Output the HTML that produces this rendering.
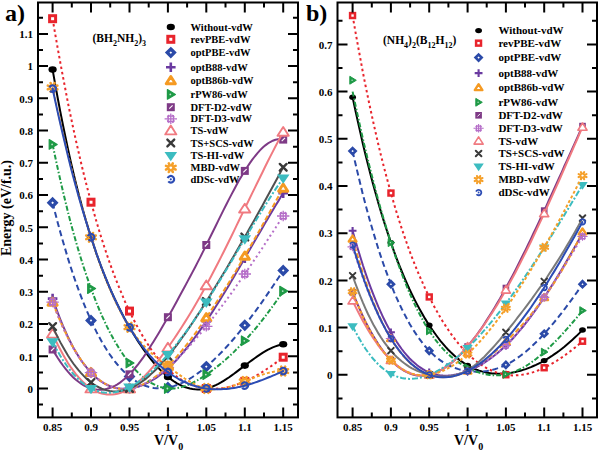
<!DOCTYPE html><html><head><meta charset="utf-8"><style>
html,body{margin:0;padding:0;background:#fff;width:600px;height:452px;overflow:hidden}
svg{display:block}
text{font-family:"Liberation Serif",serif;font-weight:bold;fill:#000}
.tl{font-size:11px}
.lg{font-size:10.5px}
.lg2{font-size:11px}
.ti{font-size:11.5px}
.sb{font-size:8px}
.sb2{font-size:10px}
.pl{font-size:24px}
.ax{font-size:14px}
</style></head><body><svg width="600" height="452" viewBox="0 0 600 452">
<defs><clipPath id="ca"><rect x="39" y="3.2" width="258" height="413.1"/></clipPath><clipPath id="cb"><rect x="338.5" y="3.2" width="257.5" height="413.1"/></clipPath></defs>
<rect width="600" height="452" fill="#fff"/>
<g clip-path="url(#ca)">
<path d="M52.6 69.6L55.2 84.3L57.8 98.5L60.4 112.1L63.0 125.1L65.6 137.7L68.1 149.8L70.7 161.4L73.3 172.5L75.9 183.2L78.5 193.5L81.1 203.3L83.7 212.7L86.3 221.7L88.9 230.4L91.5 238.6L94.1 246.6L96.6 254.2L99.2 261.4L101.8 268.4L104.4 275.1L107.0 281.5L109.6 287.6L112.2 293.5L114.8 299.1L117.4 304.5L120.0 309.7L122.6 314.7L125.1 319.6L127.7 324.2L130.3 328.7L132.9 333.1L135.5 337.3L138.1 341.4L140.7 345.3L143.3 349.1L145.9 352.7L148.5 356.2L151.0 359.5L153.6 362.6L156.2 365.6L158.8 368.4L161.4 371.0L164.0 373.5L166.6 375.8L169.2 377.9L171.8 379.9L174.4 381.7L177.0 383.3L179.5 384.7L182.1 385.9L184.7 387.0L187.3 387.8L189.9 388.5L192.5 389.0L195.1 389.3L197.7 389.5L200.3 389.4L202.9 389.1L205.5 388.7L208.0 388.1L210.6 387.2L213.2 386.2L215.8 385.1L218.4 383.8L221.0 382.4L223.6 380.8L226.2 379.2L228.8 377.5L231.4 375.6L234.0 373.8L236.5 371.9L239.1 369.9L241.7 367.9L244.3 365.9L246.9 364.0L249.5 362.0L252.1 360.1L254.7 358.2L257.3 356.4L259.9 354.6L262.5 352.9L265.0 351.4L267.6 349.9L270.2 348.6L272.8 347.4L275.4 346.4L278.0 345.5L280.6 344.8L283.2 344.3" fill="none" stroke="#000000" stroke-width="2"/>
<ellipse cx="52.6" cy="69.6" rx="4.1" ry="3.3" fill="#000000"/>
<ellipse cx="91.0" cy="237.3" rx="4.1" ry="3.3" fill="#000000"/>
<ellipse cx="129.5" cy="327.2" rx="4.1" ry="3.3" fill="#000000"/>
<ellipse cx="167.9" cy="376.9" rx="4.1" ry="3.3" fill="#000000"/>
<ellipse cx="206.3" cy="388.5" rx="4.1" ry="3.3" fill="#000000"/>
<ellipse cx="244.8" cy="365.6" rx="4.1" ry="3.3" fill="#000000"/>
<ellipse cx="283.2" cy="344.3" rx="4.1" ry="3.3" fill="#000000"/>
<path d="M52.6 18.7L55.2 34.0L57.8 48.8L60.4 63.1L63.0 77.0L65.6 90.5L68.1 103.6L70.7 116.2L73.3 128.5L75.9 140.4L78.5 151.8L81.1 163.0L83.7 173.7L86.3 184.1L88.9 194.1L91.5 203.7L94.1 213.1L96.6 222.1L99.2 230.8L101.8 239.1L104.4 247.2L107.0 255.0L109.6 262.5L112.2 269.7L114.8 276.6L117.4 283.3L120.0 289.7L122.6 295.8L125.1 301.8L127.7 307.5L130.3 312.9L132.9 318.2L135.5 323.2L138.1 328.0L140.7 332.7L143.3 337.1L145.9 341.3L148.5 345.3L151.0 349.1L153.6 352.7L156.2 356.1L158.8 359.3L161.4 362.4L164.0 365.2L166.6 367.9L169.2 370.4L171.8 372.7L174.4 374.8L177.0 376.8L179.5 378.6L182.1 380.2L184.7 381.7L187.3 383.0L189.9 384.2L192.5 385.2L195.1 386.1L197.7 386.9L200.3 387.5L202.9 388.0L205.5 388.4L208.0 388.7L210.6 388.8L213.2 388.9L215.8 388.8L218.4 388.6L221.0 388.3L223.6 388.0L226.2 387.5L228.8 386.9L231.4 386.2L234.0 385.5L236.5 384.6L239.1 383.7L241.7 382.7L244.3 381.6L246.9 380.4L249.5 379.2L252.1 377.9L254.7 376.5L257.3 375.0L259.9 373.5L262.5 371.9L265.0 370.2L267.6 368.5L270.2 366.8L272.8 365.0L275.4 363.1L278.0 361.2L280.6 359.2L283.2 357.2" fill="none" stroke="#e8242c" stroke-width="2" stroke-dasharray="2.5,2.9"/>
<rect x="49.6" y="15.7" width="6.0" height="6.0" fill="#fff" stroke="#e8242c" stroke-width="3.0"/>
<rect x="88.0" y="199.2" width="6.0" height="6.0" fill="#fff" stroke="#e8242c" stroke-width="3.0"/>
<rect x="126.5" y="308.1" width="6.0" height="6.0" fill="#fff" stroke="#e8242c" stroke-width="3.0"/>
<rect x="164.9" y="366.2" width="6.0" height="6.0" fill="#fff" stroke="#e8242c" stroke-width="3.0"/>
<rect x="203.3" y="385.5" width="6.0" height="6.0" fill="#fff" stroke="#e8242c" stroke-width="3.0"/>
<rect x="241.8" y="378.4" width="6.0" height="6.0" fill="#fff" stroke="#e8242c" stroke-width="3.0"/>
<rect x="280.2" y="354.2" width="6.0" height="6.0" fill="#fff" stroke="#e8242c" stroke-width="3.0"/>
<path d="M52.6 202.8L55.2 213.0L57.8 222.9L60.4 232.4L63.0 241.6L65.6 250.4L68.1 258.9L70.7 267.1L73.3 275.0L75.9 282.5L78.5 289.7L81.1 296.7L83.7 303.3L86.3 309.6L88.9 315.7L91.5 321.4L94.1 326.9L96.6 332.1L99.2 337.0L101.8 341.7L104.4 346.1L107.0 350.3L109.6 354.2L112.2 357.9L114.8 361.3L117.4 364.5L120.0 367.5L122.6 370.3L125.1 372.8L127.7 375.1L130.3 377.3L132.9 379.2L135.5 380.9L138.1 382.5L140.7 383.8L143.3 385.0L145.9 386.0L148.5 386.8L151.0 387.4L153.6 387.9L156.2 388.2L158.8 388.3L161.4 388.3L164.0 388.1L166.6 387.8L169.2 387.3L171.8 386.7L174.4 385.9L177.0 385.0L179.5 384.0L182.1 382.8L184.7 381.5L187.3 380.1L189.9 378.6L192.5 377.0L195.1 375.2L197.7 373.4L200.3 371.5L202.9 369.4L205.5 367.3L208.0 365.1L210.6 362.8L213.2 360.4L215.8 357.9L218.4 355.4L221.0 352.8L223.6 350.1L226.2 347.3L228.8 344.4L231.4 341.5L234.0 338.5L236.5 335.4L239.1 332.3L241.7 329.1L244.3 325.9L246.9 322.5L249.5 319.2L252.1 315.7L254.7 312.2L257.3 308.7L259.9 305.1L262.5 301.4L265.0 297.7L267.6 293.9L270.2 290.1L272.8 286.3L275.4 282.4L278.0 278.5L280.6 274.5L283.2 270.5" fill="none" stroke="#2b4aa8" stroke-width="2" stroke-dasharray="6,3.5"/>
<path d="M52.6 199.2L56.2 202.8L52.6 206.4L49.0 202.8Z" fill="#fff" stroke="#2b4aa8" stroke-width="3.3"/>
<path d="M91.0 316.9L94.6 320.5L91.0 324.1L87.4 320.5Z" fill="#fff" stroke="#2b4aa8" stroke-width="3.3"/>
<path d="M129.5 373.0L133.1 376.6L129.5 380.2L125.9 376.6Z" fill="#fff" stroke="#2b4aa8" stroke-width="3.3"/>
<path d="M167.9 383.9L171.5 387.5L167.9 391.1L164.3 387.5Z" fill="#fff" stroke="#2b4aa8" stroke-width="3.3"/>
<path d="M206.3 363.0L209.9 366.6L206.3 370.2L202.7 366.6Z" fill="#fff" stroke="#2b4aa8" stroke-width="3.3"/>
<path d="M244.8 321.7L248.4 325.3L244.8 328.9L241.2 325.3Z" fill="#fff" stroke="#2b4aa8" stroke-width="3.3"/>
<path d="M283.2 266.9L286.8 270.5L283.2 274.1L279.6 270.5Z" fill="#fff" stroke="#2b4aa8" stroke-width="3.3"/>
<path d="M52.6 298.6L55.2 305.9L57.8 312.9L60.4 319.5L63.0 325.8L65.6 331.7L68.1 337.3L70.7 342.5L73.3 347.4L75.9 352.0L78.5 356.2L81.1 360.2L83.7 363.9L86.3 367.2L88.9 370.3L91.5 373.2L94.1 375.7L96.6 378.0L99.2 380.1L101.8 381.9L104.4 383.5L107.0 384.8L109.6 386.0L112.2 386.9L114.8 387.7L117.4 388.2L120.0 388.6L122.6 388.8L125.1 388.8L127.7 388.7L130.3 388.4L132.9 388.0L135.5 387.4L138.1 386.7L140.7 385.8L143.3 384.8L145.9 383.7L148.5 382.4L151.0 381.0L153.6 379.5L156.2 377.8L158.8 376.0L161.4 374.0L164.0 371.9L166.6 369.7L169.2 367.3L171.8 364.8L174.4 362.2L177.0 359.5L179.5 356.6L182.1 353.6L184.7 350.5L187.3 347.3L189.9 344.0L192.5 340.7L195.1 337.2L197.7 333.6L200.3 329.9L202.9 326.2L205.5 322.4L208.0 318.5L210.6 314.6L213.2 310.6L215.8 306.5L218.4 302.4L221.0 298.2L223.6 294.0L226.2 289.7L228.8 285.4L231.4 281.1L234.0 276.7L236.5 272.3L239.1 267.9L241.7 263.4L244.3 259.0L246.9 254.5L249.5 250.1L252.1 245.6L254.7 241.1L257.3 236.6L259.9 232.2L262.5 227.7L265.0 223.3L267.6 218.9L270.2 214.5L272.8 210.2L275.4 205.8L278.0 201.6L280.6 197.3L283.2 193.1" fill="none" stroke="#6a3aa0" stroke-width="2"/>
<path d="M47.8 298.6H57.4M52.6 293.8V303.4" stroke="#6a3aa0" stroke-width="2.6"/>
<path d="M86.2 372.7H95.8M91.0 367.9V377.5" stroke="#6a3aa0" stroke-width="2.6"/>
<path d="M124.7 388.5H134.3M129.5 383.7V393.3" stroke="#6a3aa0" stroke-width="2.6"/>
<path d="M163.1 368.5H172.7M167.9 363.7V373.3" stroke="#6a3aa0" stroke-width="2.6"/>
<path d="M201.5 321.1H211.1M206.3 316.3V325.9" stroke="#6a3aa0" stroke-width="2.6"/>
<path d="M240.0 258.3H249.6M244.8 253.5V263.1" stroke="#6a3aa0" stroke-width="2.6"/>
<path d="M278.4 193.1H288.0M283.2 188.3V197.9" stroke="#6a3aa0" stroke-width="2.6"/>
<path d="M52.6 302.1L55.2 308.9L57.8 315.3L60.4 321.5L63.0 327.3L65.6 332.8L68.1 338.1L70.7 343.0L73.3 347.7L75.9 352.1L78.5 356.2L81.1 360.1L83.7 363.6L86.3 367.0L88.9 370.0L91.5 372.8L94.1 375.4L96.6 377.7L99.2 379.8L101.8 381.7L104.4 383.3L107.0 384.7L109.6 385.9L112.2 386.9L114.8 387.7L117.4 388.3L120.0 388.7L122.6 388.9L125.1 388.9L127.7 388.7L130.3 388.4L132.9 387.8L135.5 387.2L138.1 386.3L140.7 385.3L143.3 384.1L145.9 382.8L148.5 381.4L151.0 379.7L153.6 378.0L156.2 376.1L158.8 374.1L161.4 371.9L164.0 369.6L166.6 367.2L169.2 364.6L171.8 362.0L174.4 359.2L177.0 356.3L179.5 353.4L182.1 350.3L184.7 347.1L187.3 343.8L189.9 340.5L192.5 337.1L195.1 333.6L197.7 330.0L200.3 326.3L202.9 322.6L205.5 318.8L208.0 315.0L210.6 311.1L213.2 307.2L215.8 303.2L218.4 299.2L221.0 295.1L223.6 291.0L226.2 286.9L228.8 282.7L231.4 278.4L234.0 274.2L236.5 269.9L239.1 265.5L241.7 261.1L244.3 256.7L246.9 252.3L249.5 247.8L252.1 243.3L254.7 238.8L257.3 234.3L259.9 229.7L262.5 225.1L265.0 220.5L267.6 215.9L270.2 211.3L272.8 206.7L275.4 202.0L278.0 197.3L280.6 192.7L283.2 188.0" fill="none" stroke="#f59a22" stroke-width="2" stroke-dasharray="5,2.5"/>
<path d="M52.6 298.1L57.2 305.3L48.0 305.3Z" fill="#fff" stroke="#f59a22" stroke-width="2.9" stroke-linejoin="round"/>
<path d="M91.0 368.4L95.6 375.6L86.4 375.6Z" fill="#fff" stroke="#f59a22" stroke-width="2.9" stroke-linejoin="round"/>
<path d="M129.5 384.5L134.1 391.7L124.9 391.7Z" fill="#fff" stroke="#f59a22" stroke-width="2.9" stroke-linejoin="round"/>
<path d="M167.9 361.9L172.5 369.1L163.3 369.1Z" fill="#fff" stroke="#f59a22" stroke-width="2.9" stroke-linejoin="round"/>
<path d="M206.3 313.6L210.9 320.8L201.7 320.8Z" fill="#fff" stroke="#f59a22" stroke-width="2.9" stroke-linejoin="round"/>
<path d="M244.8 252.0L249.4 259.2L240.2 259.2Z" fill="#fff" stroke="#f59a22" stroke-width="2.9" stroke-linejoin="round"/>
<path d="M283.2 184.0L287.8 191.2L278.6 191.2Z" fill="#fff" stroke="#f59a22" stroke-width="2.9" stroke-linejoin="round"/>
<path d="M52.6 144.4L55.2 156.8L57.8 168.8L60.4 180.4L63.0 191.6L65.6 202.3L68.1 212.7L70.7 222.7L73.3 232.3L75.9 241.5L78.5 250.4L81.1 259.0L83.7 267.2L86.3 275.0L88.9 282.5L91.5 289.7L94.1 296.6L96.6 303.2L99.2 309.5L101.8 315.5L104.4 321.1L107.0 326.6L109.6 331.7L112.2 336.6L114.8 341.2L117.4 345.6L120.0 349.8L122.6 353.7L125.1 357.4L127.7 360.8L130.3 364.1L132.9 367.1L135.5 370.0L138.1 372.6L140.7 375.1L143.3 377.3L145.9 379.4L148.5 381.2L151.0 382.8L153.6 384.2L156.2 385.5L158.8 386.5L161.4 387.3L164.0 387.9L166.6 388.4L169.2 388.6L171.8 388.6L174.4 388.5L177.0 388.1L179.5 387.6L182.1 386.9L184.7 386.1L187.3 385.2L189.9 384.1L192.5 382.9L195.1 381.5L197.7 380.1L200.3 378.6L202.9 376.9L205.5 375.2L208.0 373.4L210.6 371.6L213.2 369.7L215.8 367.7L218.4 365.6L221.0 363.5L223.6 361.3L226.2 359.1L228.8 356.7L231.4 354.3L234.0 351.9L236.5 349.3L239.1 346.7L241.7 344.0L244.3 341.3L246.9 338.4L249.5 335.5L252.1 332.5L254.7 329.5L257.3 326.4L259.9 323.2L262.5 319.9L265.0 316.6L267.6 313.2L270.2 309.7L272.8 306.1L275.4 302.5L278.0 298.8L280.6 295.0L283.2 291.1" fill="none" stroke="#1e9a46" stroke-width="2" stroke-dasharray="5,2,1.5,2"/>
<path d="M57.2 144.4L49.2 139.6L49.2 149.2Z" fill="#1e9a46" stroke="#1e9a46" stroke-width="1.2" stroke-linejoin="round"/><circle cx="52.1" cy="144.4" r="0.9" fill="#fff" opacity="0.7"/>
<path d="M95.6 288.6L87.7 283.8L87.7 293.4Z" fill="#1e9a46" stroke="#1e9a46" stroke-width="1.2" stroke-linejoin="round"/><circle cx="90.5" cy="288.6" r="0.9" fill="#fff" opacity="0.7"/>
<path d="M134.0 363.0L126.1 358.2L126.1 367.8Z" fill="#1e9a46" stroke="#1e9a46" stroke-width="1.2" stroke-linejoin="round"/><circle cx="129.0" cy="363.0" r="0.9" fill="#fff" opacity="0.7"/>
<path d="M172.5 388.5L164.5 383.7L164.5 393.3Z" fill="#1e9a46" stroke="#1e9a46" stroke-width="1.2" stroke-linejoin="round"/><circle cx="167.4" cy="388.5" r="0.9" fill="#fff" opacity="0.7"/>
<path d="M210.9 374.6L203.0 369.8L203.0 379.4Z" fill="#1e9a46" stroke="#1e9a46" stroke-width="1.2" stroke-linejoin="round"/><circle cx="205.8" cy="374.6" r="0.9" fill="#fff" opacity="0.7"/>
<path d="M249.3 340.8L241.4 336.0L241.4 345.6Z" fill="#1e9a46" stroke="#1e9a46" stroke-width="1.2" stroke-linejoin="round"/><circle cx="244.3" cy="340.8" r="0.9" fill="#fff" opacity="0.7"/>
<path d="M287.7 291.1L279.8 286.3L279.8 295.9Z" fill="#1e9a46" stroke="#1e9a46" stroke-width="1.2" stroke-linejoin="round"/><circle cx="282.7" cy="291.1" r="0.9" fill="#fff" opacity="0.7"/>
<path d="M52.6 349.5L55.2 353.9L57.8 358.0L60.4 361.9L63.0 365.5L65.6 368.8L68.1 371.9L70.7 374.8L73.3 377.4L75.9 379.7L78.5 381.8L81.1 383.7L83.7 385.3L86.3 386.6L88.9 387.8L91.5 388.6L94.1 389.3L96.6 389.6L99.2 389.8L101.8 389.7L104.4 389.4L107.0 388.8L109.6 388.0L112.2 387.0L114.8 385.8L117.4 384.3L120.0 382.6L122.6 380.6L125.1 378.4L127.7 376.0L130.3 373.4L132.9 370.6L135.5 367.5L138.1 364.3L140.7 360.9L143.3 357.3L145.9 353.5L148.5 349.7L151.0 345.6L153.6 341.5L156.2 337.3L158.8 332.9L161.4 328.5L164.0 324.1L166.6 319.5L169.2 315.0L171.8 310.4L174.4 305.7L177.0 301.0L179.5 296.3L182.1 291.6L184.7 286.8L187.3 281.9L189.9 277.1L192.5 272.1L195.1 267.2L197.7 262.1L200.3 257.1L202.9 251.9L205.5 246.8L208.0 241.5L210.6 236.3L213.2 231.0L215.8 225.7L218.4 220.4L221.0 215.1L223.6 209.9L226.2 204.7L228.8 199.6L231.4 194.6L234.0 189.7L236.5 185.0L239.1 180.3L241.7 175.9L244.3 171.6L246.9 167.5L249.5 163.6L252.1 159.9L254.7 156.5L257.3 153.3L259.9 150.4L262.5 147.8L265.0 145.6L267.6 143.6L270.2 142.0L272.8 140.7L275.4 139.8L278.0 139.3L280.6 139.3L283.2 139.6" fill="none" stroke="#7e3a86" stroke-width="2"/>
<rect x="48.6" y="345.5" width="8.0" height="8.0" fill="#7e3a86"/><path d="M51.1 351.0L54.4 347.7" stroke="#fff" stroke-width="1.1"/>
<rect x="87.0" y="384.5" width="8.0" height="8.0" fill="#7e3a86"/><path d="M89.5 390.0L92.8 386.7" stroke="#fff" stroke-width="1.1"/>
<rect x="125.5" y="370.3" width="8.0" height="8.0" fill="#7e3a86"/><path d="M128.0 375.8L131.3 372.5" stroke="#fff" stroke-width="1.1"/>
<rect x="163.9" y="313.2" width="8.0" height="8.0" fill="#7e3a86"/><path d="M166.4 318.7L169.7 315.4" stroke="#fff" stroke-width="1.1"/>
<rect x="202.3" y="241.0" width="8.0" height="8.0" fill="#7e3a86"/><path d="M204.8 246.5L208.1 243.2" stroke="#fff" stroke-width="1.1"/>
<rect x="240.8" y="166.9" width="8.0" height="8.0" fill="#7e3a86"/><path d="M243.3 172.4L246.6 169.1" stroke="#fff" stroke-width="1.1"/>
<rect x="279.2" y="135.6" width="8.0" height="8.0" fill="#7e3a86"/><path d="M281.7 141.1L285.0 137.8" stroke="#fff" stroke-width="1.1"/>
<path d="M52.6 302.1L55.2 308.9L57.8 315.5L60.4 321.7L63.0 327.6L65.6 333.1L68.1 338.4L70.7 343.4L73.3 348.1L75.9 352.5L78.5 356.6L81.1 360.4L83.7 364.0L86.3 367.3L88.9 370.4L91.5 373.2L94.1 375.7L96.6 378.0L99.2 380.1L101.8 381.9L104.4 383.5L107.0 384.9L109.6 386.1L112.2 387.0L114.8 387.8L117.4 388.3L120.0 388.7L122.6 388.9L125.1 388.9L127.7 388.7L130.3 388.4L132.9 387.9L135.5 387.2L138.1 386.4L140.7 385.4L143.3 384.3L145.9 383.0L148.5 381.6L151.0 380.1L153.6 378.5L156.2 376.7L158.8 374.8L161.4 372.9L164.0 370.8L166.6 368.7L169.2 366.4L171.8 364.1L174.4 361.7L177.0 359.2L179.5 356.6L182.1 354.0L184.7 351.3L187.3 348.5L189.9 345.6L192.5 342.7L195.1 339.8L197.7 336.7L200.3 333.7L202.9 330.5L205.5 327.3L208.0 324.1L210.6 320.8L213.2 317.5L215.8 314.2L218.4 310.7L221.0 307.3L223.6 303.8L226.2 300.3L228.8 296.7L231.4 293.1L234.0 289.5L236.5 285.8L239.1 282.1L241.7 278.4L244.3 274.7L246.9 270.9L249.5 267.1L252.1 263.3L254.7 259.4L257.3 255.6L259.9 251.7L262.5 247.8L265.0 243.8L267.6 239.9L270.2 235.9L272.8 232.0L275.4 228.0L278.0 224.0L280.6 220.0L283.2 216.0" fill="none" stroke="#b56ec8" stroke-width="2" stroke-dasharray="2,3"/>
<path d="M49.4 299.5H55.8M46.4 302.1H58.8M49.0 304.7H56.2M50.0 298.3V305.9M52.6 296.9V307.3M55.2 298.3V305.9" stroke="#b56ec8" stroke-width="1.3"/><path d="M49.0 300.6L51.1 298.1M56.2 300.6L54.1 298.1M49.0 303.6L51.1 306.1M56.2 303.6L54.1 306.1" stroke="#b56ec8" stroke-width="1.3"/>
<path d="M87.8 370.1H94.2M84.8 372.7H97.2M87.4 375.3H94.6M88.4 368.9V376.5M91.0 367.5V377.9M93.6 368.9V376.5" stroke="#b56ec8" stroke-width="1.3"/><path d="M87.4 371.2L89.5 368.7M94.6 371.2L92.5 368.7M87.4 374.2L89.5 376.7M94.6 374.2L92.5 376.7" stroke="#b56ec8" stroke-width="1.3"/>
<path d="M126.3 385.9H132.7M123.3 388.5H135.7M125.9 391.1H133.1M126.9 384.7V392.3M129.5 383.3V393.7M132.1 384.7V392.3" stroke="#b56ec8" stroke-width="1.3"/><path d="M125.9 387.0L128.0 384.5M133.1 387.0L131.0 384.5M125.9 390.0L128.0 392.5M133.1 390.0L131.0 392.5" stroke="#b56ec8" stroke-width="1.3"/>
<path d="M164.7 364.9H171.1M161.7 367.5H174.1M164.3 370.1H171.5M165.3 363.7V371.3M167.9 362.3V372.7M170.5 363.7V371.3" stroke="#b56ec8" stroke-width="1.3"/><path d="M164.3 366.0L166.4 363.5M171.5 366.0L169.4 363.5M164.3 369.0L166.4 371.5M171.5 369.0L169.4 371.5" stroke="#b56ec8" stroke-width="1.3"/>
<path d="M203.1 323.7H209.5M200.1 326.3H212.5M202.7 328.9H209.9M203.7 322.5V330.1M206.3 321.1V331.5M208.9 322.5V330.1" stroke="#b56ec8" stroke-width="1.3"/><path d="M202.7 324.8L204.8 322.3M209.9 324.8L207.8 322.3M202.7 327.8L204.8 330.3M209.9 327.8L207.8 330.3" stroke="#b56ec8" stroke-width="1.3"/>
<path d="M241.6 271.4H248.0M238.6 274.0H251.0M241.2 276.6H248.4M242.2 270.2V277.8M244.8 268.8V279.2M247.4 270.2V277.8" stroke="#b56ec8" stroke-width="1.3"/><path d="M241.2 272.5L243.3 270.0M248.4 272.5L246.3 270.0M241.2 275.5L243.3 278.0M248.4 275.5L246.3 278.0" stroke="#b56ec8" stroke-width="1.3"/>
<path d="M280.0 213.4H286.4M277.0 216.0H289.4M279.6 218.6H286.8M280.6 212.2V219.8M283.2 210.8V221.2M285.8 212.2V219.8" stroke="#b56ec8" stroke-width="1.3"/><path d="M279.6 214.5L281.7 212.0M286.8 214.5L284.7 212.0M279.6 217.5L281.7 220.0M286.8 217.5L284.7 220.0" stroke="#b56ec8" stroke-width="1.3"/>
<path d="M52.6 333.7L55.2 339.3L57.8 344.7L60.4 349.7L63.0 354.5L65.6 359.0L68.1 363.2L70.7 367.1L73.3 370.7L75.9 374.1L78.5 377.2L81.1 380.0L83.7 382.6L86.3 384.9L88.9 387.0L91.5 388.8L94.1 390.3L96.6 391.7L99.2 392.7L101.8 393.6L104.4 394.1L107.0 394.5L109.6 394.6L112.2 394.6L114.8 394.3L117.4 393.7L120.0 393.0L122.6 392.0L125.1 390.9L127.7 389.5L130.3 388.0L132.9 386.2L135.5 384.3L138.1 382.1L140.7 379.8L143.3 377.4L145.9 374.8L148.5 372.0L151.0 369.1L153.6 366.1L156.2 363.0L158.8 359.7L161.4 356.4L164.0 352.9L166.6 349.4L169.2 345.7L171.8 342.0L174.4 338.3L177.0 334.4L179.5 330.5L182.1 326.5L184.7 322.4L187.3 318.2L189.9 314.0L192.5 309.7L195.1 305.3L197.7 300.8L200.3 296.3L202.9 291.6L205.5 286.9L208.0 282.1L210.6 277.3L213.2 272.3L215.8 267.3L218.4 262.3L221.0 257.1L223.6 252.0L226.2 246.8L228.8 241.5L231.4 236.2L234.0 230.9L236.5 225.6L239.1 220.2L241.7 214.9L244.3 209.5L246.9 204.1L249.5 198.8L252.1 193.4L254.7 188.1L257.3 182.7L259.9 177.5L262.5 172.2L265.0 167.0L267.6 161.8L270.2 156.6L272.8 151.6L275.4 146.5L278.0 141.6L280.6 136.7L283.2 131.9" fill="none" stroke="#f07a80" stroke-width="2"/>
<path d="M52.6 328.8L58.2 337.6L47.0 337.6Z" fill="#fff" stroke="#f07a80" stroke-width="1.9" stroke-linejoin="round"/>
<path d="M91.0 383.6L96.7 392.4L85.4 392.4Z" fill="#fff" stroke="#f07a80" stroke-width="1.9" stroke-linejoin="round"/>
<path d="M129.5 383.6L135.1 392.4L123.8 392.4Z" fill="#fff" stroke="#f07a80" stroke-width="1.9" stroke-linejoin="round"/>
<path d="M167.9 342.7L173.5 351.5L162.3 351.5Z" fill="#fff" stroke="#f07a80" stroke-width="1.9" stroke-linejoin="round"/>
<path d="M206.3 280.4L212.0 289.3L200.7 289.3Z" fill="#fff" stroke="#f07a80" stroke-width="1.9" stroke-linejoin="round"/>
<path d="M244.8 203.7L250.4 212.5L239.1 212.5Z" fill="#fff" stroke="#f07a80" stroke-width="1.9" stroke-linejoin="round"/>
<path d="M283.2 127.0L288.8 135.8L277.5 135.8Z" fill="#fff" stroke="#f07a80" stroke-width="1.9" stroke-linejoin="round"/>
<path d="M52.6 326.6L55.2 332.1L57.8 337.4L60.4 342.4L63.0 347.1L65.6 351.6L68.1 355.8L70.7 359.7L73.3 363.5L75.9 366.9L78.5 370.1L81.1 373.1L83.7 375.9L86.3 378.4L88.9 380.7L91.5 382.7L94.1 384.5L96.6 386.1L99.2 387.5L101.8 388.7L104.4 389.6L107.0 390.4L109.6 390.9L112.2 391.2L114.8 391.4L117.4 391.3L120.0 391.1L122.6 390.6L125.1 390.0L127.7 389.2L130.3 388.1L132.9 387.0L135.5 385.6L138.1 384.1L140.7 382.4L143.3 380.6L145.9 378.6L148.5 376.4L151.0 374.1L153.6 371.7L156.2 369.2L158.8 366.5L161.4 363.7L164.0 360.8L166.6 357.8L169.2 354.7L171.8 351.5L174.4 348.2L177.0 344.8L179.5 341.3L182.1 337.7L184.7 334.1L187.3 330.4L189.9 326.6L192.5 322.8L195.1 318.9L197.7 314.9L200.3 311.0L202.9 306.9L205.5 302.8L208.0 298.7L210.6 294.5L213.2 290.4L215.8 286.1L218.4 281.9L221.0 277.6L223.6 273.3L226.2 268.9L228.8 264.6L231.4 260.1L234.0 255.7L236.5 251.3L239.1 246.8L241.7 242.3L244.3 237.7L246.9 233.2L249.5 228.6L252.1 224.0L254.7 219.4L257.3 214.7L259.9 210.1L262.5 205.4L265.0 200.7L267.6 196.0L270.2 191.2L272.8 186.5L275.4 181.7L278.0 176.9L280.6 172.1L283.2 167.3" fill="none" stroke="#505050" stroke-width="2"/>
<path d="M49.2 323.2L56.0 330.0M56.0 323.2L49.2 330.0" stroke="#3a3a3a" stroke-width="2.4" stroke-linecap="round"/>
<path d="M87.6 379.0L94.4 385.8M94.4 379.0L87.6 385.8" stroke="#3a3a3a" stroke-width="2.4" stroke-linecap="round"/>
<path d="M126.1 385.1L132.9 391.9M132.9 385.1L126.1 391.9" stroke="#3a3a3a" stroke-width="2.4" stroke-linecap="round"/>
<path d="M164.5 352.9L171.3 359.7M171.3 352.9L164.5 359.7" stroke="#3a3a3a" stroke-width="2.4" stroke-linecap="round"/>
<path d="M202.9 298.1L209.7 304.9M209.7 298.1L202.9 304.9" stroke="#3a3a3a" stroke-width="2.4" stroke-linecap="round"/>
<path d="M241.4 233.6L248.2 240.4M248.2 233.6L241.4 240.4" stroke="#3a3a3a" stroke-width="2.4" stroke-linecap="round"/>
<path d="M279.8 163.9L286.6 170.7M286.6 163.9L279.8 170.7" stroke="#3a3a3a" stroke-width="2.4" stroke-linecap="round"/>
<path d="M52.6 341.8L55.2 346.8L57.8 351.5L60.4 356.0L63.0 360.1L65.6 364.0L68.1 367.6L70.7 370.9L73.3 374.0L75.9 376.8L78.5 379.4L81.1 381.7L83.7 383.8L86.3 385.7L88.9 387.3L91.5 388.7L94.1 389.9L96.6 390.9L99.2 391.6L101.8 392.2L104.4 392.6L107.0 392.8L109.6 392.8L112.2 392.6L114.8 392.2L117.4 391.7L120.0 391.0L122.6 390.2L125.1 389.2L127.7 388.0L130.3 386.8L132.9 385.4L135.5 383.8L138.1 382.1L140.7 380.3L143.3 378.4L145.9 376.4L148.5 374.2L151.0 371.9L153.6 369.6L156.2 367.1L158.8 364.5L161.4 361.8L164.0 359.0L166.6 356.1L169.2 353.2L171.8 350.1L174.4 346.9L177.0 343.7L179.5 340.4L182.1 337.0L184.7 333.6L187.3 330.0L189.9 326.4L192.5 322.7L195.1 319.0L197.7 315.2L200.3 311.3L202.9 307.4L205.5 303.4L208.0 299.4L210.6 295.3L213.2 291.2L215.8 287.0L218.4 282.8L221.0 278.6L223.6 274.3L226.2 270.0L228.8 265.7L231.4 261.4L234.0 257.0L236.5 252.7L239.1 248.3L241.7 244.0L244.3 239.6L246.9 235.3L249.5 231.0L252.1 226.7L254.7 222.4L257.3 218.1L259.9 213.9L262.5 209.7L265.0 205.6L267.6 201.5L270.2 197.4L272.8 193.4L275.4 189.4L278.0 185.6L280.6 181.7L283.2 178.0" fill="none" stroke="#3cbcc0" stroke-width="2" stroke-dasharray="6,2,2,2"/>
<path d="M46.3 338.2L58.9 338.2L52.6 347.6Z" fill="#3cbcc0"/>
<path d="M84.7 384.9L97.3 384.9L91.0 394.3Z" fill="#3cbcc0"/>
<path d="M123.2 383.6L135.8 383.6L129.5 393.0Z" fill="#3cbcc0"/>
<path d="M161.6 351.0L174.2 351.0L167.9 360.4Z" fill="#3cbcc0"/>
<path d="M200.0 298.5L212.6 298.5L206.3 307.9Z" fill="#3cbcc0"/>
<path d="M238.5 235.3L251.1 235.3L244.8 244.7Z" fill="#3cbcc0"/>
<path d="M276.9 174.4L289.5 174.4L283.2 183.8Z" fill="#3cbcc0"/>
<path d="M52.6 87.4L55.2 99.3L57.8 111.0L60.4 122.5L63.0 133.6L65.6 144.5L68.1 155.1L70.7 165.5L73.3 175.6L75.9 185.4L78.5 194.9L81.1 204.2L83.7 213.2L86.3 222.0L88.9 230.4L91.5 238.6L94.1 246.6L96.6 254.2L99.2 261.6L101.8 268.7L104.4 275.5L107.0 282.1L109.6 288.3L112.2 294.3L114.8 300.1L117.4 305.5L120.0 310.7L122.6 315.6L125.1 320.2L127.7 324.5L130.3 328.6L132.9 332.3L135.5 335.9L138.1 339.2L140.7 342.2L143.3 345.1L145.9 347.8L148.5 350.3L151.0 352.7L153.6 355.0L156.2 357.2L158.8 359.3L161.4 361.3L164.0 363.3L166.6 365.3L169.2 367.2L171.8 369.2L174.4 371.1L177.0 373.1L179.5 374.9L182.1 376.7L184.7 378.5L187.3 380.2L189.9 381.7L192.5 383.2L195.1 384.5L197.7 385.7L200.3 386.7L202.9 387.6L205.5 388.3L208.0 388.8L210.6 389.1L213.2 389.3L215.8 389.2L218.4 389.1L221.0 388.7L223.6 388.3L226.2 387.7L228.8 387.1L231.4 386.3L234.0 385.5L236.5 384.6L239.1 383.6L241.7 382.6L244.3 381.6L246.9 380.5L249.5 379.5L252.1 378.5L254.7 377.4L257.3 376.4L259.9 375.5L262.5 374.6L265.0 373.8L267.6 373.1L270.2 372.4L272.8 371.9L275.4 371.5L278.0 371.2L280.6 371.1L283.2 371.1" fill="none" stroke="#f5a02a" stroke-width="2" stroke-dasharray="3,2.2"/>
<path d="M55.0 88.3L57.4 89.2M53.6 89.6L54.6 91.7M51.6 89.6L50.6 91.7M50.2 88.3L47.8 89.2M50.2 86.5L47.8 85.6M51.6 85.2L50.6 83.0M53.6 85.2L54.6 83.0M55.0 86.5L57.4 85.6" stroke="#f5a02a" stroke-width="2.6" stroke-linecap="round"/>
<path d="M93.4 238.2L95.8 239.1M92.0 239.5L93.0 241.6M90.0 239.5L89.0 241.6M88.6 238.2L86.2 239.1M88.6 236.4L86.2 235.5M90.0 235.1L89.0 233.0M92.0 235.1L93.0 233.0M93.4 236.4L95.8 235.5" stroke="#f5a02a" stroke-width="2.6" stroke-linecap="round"/>
<path d="M131.9 328.2L134.3 329.0M130.5 329.5L131.4 331.6M128.5 329.5L127.5 331.6M127.1 328.2L124.7 329.0M127.1 326.3L124.7 325.4M128.5 325.0L127.5 322.9M130.5 325.0L131.4 322.9M131.9 326.3L134.3 325.4" stroke="#f5a02a" stroke-width="2.6" stroke-linecap="round"/>
<path d="M170.3 367.2L172.7 368.1M168.9 368.5L169.9 370.6M166.9 368.5L165.9 370.6M165.5 367.2L163.1 368.1M165.5 365.3L163.1 364.5M166.9 364.0L165.9 361.9M168.9 364.0L169.9 361.9M170.3 365.3L172.7 364.5" stroke="#f5a02a" stroke-width="2.6" stroke-linecap="round"/>
<path d="M208.7 389.4L211.1 390.3M207.3 390.7L208.3 392.8M205.3 390.7L204.3 392.8M203.9 389.4L201.5 390.3M203.9 387.6L201.5 386.7M205.3 386.3L204.3 384.2M207.3 386.3L208.3 384.2M208.7 387.6L211.1 386.7" stroke="#f5a02a" stroke-width="2.6" stroke-linecap="round"/>
<path d="M247.2 382.3L249.6 383.2M245.7 383.6L246.7 385.7M243.8 383.6L242.8 385.7M242.3 382.3L239.9 383.2M242.3 380.5L239.9 379.6M243.8 379.2L242.8 377.1M245.7 379.2L246.7 377.1M247.2 380.5L249.6 379.6" stroke="#f5a02a" stroke-width="2.6" stroke-linecap="round"/>
<path d="M285.6 372.0L288.0 372.9M284.2 373.3L285.2 375.4M282.2 373.3L281.2 375.4M280.8 372.0L278.4 372.9M280.8 370.2L278.4 369.3M282.2 368.9L281.2 366.7M284.2 368.9L285.2 366.7M285.6 370.2L288.0 369.3" stroke="#f5a02a" stroke-width="2.6" stroke-linecap="round"/>
<path d="M52.6 88.7L55.2 100.8L57.8 112.6L60.4 124.0L63.0 135.2L65.6 146.1L68.1 156.6L70.7 166.9L73.3 176.9L75.9 186.5L78.5 195.9L81.1 205.0L83.7 213.8L86.3 222.3L88.9 230.6L91.5 238.6L94.1 246.3L96.6 253.8L99.2 261.0L101.8 268.0L104.4 274.7L107.0 281.1L109.6 287.3L112.2 293.3L114.8 299.0L117.4 304.5L120.0 309.8L122.6 314.9L125.1 319.7L127.7 324.3L130.3 328.7L132.9 332.9L135.5 336.9L138.1 340.6L140.7 344.2L143.3 347.6L145.9 350.9L148.5 353.9L151.0 356.8L153.6 359.6L156.2 362.2L158.8 364.6L161.4 366.9L164.0 369.1L166.6 371.1L169.2 373.0L171.8 374.8L174.4 376.5L177.0 378.0L179.5 379.5L182.1 380.8L184.7 382.1L187.3 383.2L189.9 384.3L192.5 385.2L195.1 386.0L197.7 386.7L200.3 387.4L202.9 387.9L205.5 388.4L208.0 388.7L210.6 389.0L213.2 389.2L215.8 389.3L218.4 389.3L221.0 389.3L223.6 389.1L226.2 388.9L228.8 388.7L231.4 388.3L234.0 387.9L236.5 387.5L239.1 386.9L241.7 386.4L244.3 385.7L246.9 385.0L249.5 384.3L252.1 383.5L254.7 382.6L257.3 381.8L259.9 380.8L262.5 379.9L265.0 378.9L267.6 377.8L270.2 376.8L272.8 375.7L275.4 374.6L278.0 373.4L280.6 372.3L283.2 371.1" fill="none" stroke="#2c4cb4" stroke-width="2"/>
<path d="M49.5 87.5A3.3 3.3 0 1 1 50.1 90.8" fill="none" stroke="#2c4cb4" stroke-width="2.2"/><circle cx="52.6" cy="88.7" r="1.1" fill="#2c4cb4"/>
<path d="M87.9 236.2A3.3 3.3 0 1 1 88.5 239.4" fill="none" stroke="#2c4cb4" stroke-width="2.2"/><circle cx="91.0" cy="237.3" r="1.1" fill="#2c4cb4"/>
<path d="M126.4 326.1A3.3 3.3 0 1 1 126.9 329.4" fill="none" stroke="#2c4cb4" stroke-width="2.2"/><circle cx="129.5" cy="327.2" r="1.1" fill="#2c4cb4"/>
<path d="M164.8 370.9A3.3 3.3 0 1 1 165.4 374.2" fill="none" stroke="#2c4cb4" stroke-width="2.2"/><circle cx="167.9" cy="372.1" r="1.1" fill="#2c4cb4"/>
<path d="M203.2 387.4A3.3 3.3 0 1 1 203.8 390.6" fill="none" stroke="#2c4cb4" stroke-width="2.2"/><circle cx="206.3" cy="388.5" r="1.1" fill="#2c4cb4"/>
<path d="M241.6 384.5A3.3 3.3 0 1 1 242.2 387.7" fill="none" stroke="#2c4cb4" stroke-width="2.2"/><circle cx="244.8" cy="385.6" r="1.1" fill="#2c4cb4"/>
<path d="M280.1 370.0A3.3 3.3 0 1 1 280.7 373.2" fill="none" stroke="#2c4cb4" stroke-width="2.2"/><circle cx="283.2" cy="371.1" r="1.1" fill="#2c4cb4"/>
</g>
<g clip-path="url(#cb)">
<path d="M352.6 97.3L355.2 109.5L357.8 121.4L360.4 132.9L362.9 144.0L365.5 154.7L368.1 165.1L370.7 175.2L373.3 184.9L375.9 194.2L378.4 203.3L381.0 212.0L383.6 220.4L386.2 228.5L388.8 236.4L391.4 243.9L393.9 251.1L396.5 258.1L399.1 264.8L401.7 271.2L404.3 277.4L406.9 283.3L409.4 289.0L412.0 294.4L414.6 299.6L417.2 304.6L419.8 309.4L422.4 314.0L424.9 318.4L427.5 322.6L430.1 326.6L432.7 330.4L435.3 334.0L437.9 337.5L440.4 340.8L443.0 343.9L445.6 346.9L448.2 349.7L450.8 352.3L453.4 354.7L455.9 357.0L458.5 359.1L461.1 361.1L463.7 362.9L466.3 364.6L468.9 366.1L471.4 367.4L474.0 368.7L476.6 369.7L479.2 370.6L481.8 371.4L484.4 372.1L486.9 372.7L489.5 373.1L492.1 373.4L494.7 373.6L497.3 373.7L499.9 373.7L502.4 373.6L505.0 373.5L507.6 373.2L510.2 372.9L512.8 372.4L515.4 371.9L517.9 371.3L520.5 370.7L523.1 369.9L525.7 369.1L528.3 368.1L530.9 367.1L533.4 366.0L536.0 364.9L538.6 363.6L541.2 362.3L543.8 360.9L546.4 359.4L548.9 357.8L551.5 356.2L554.1 354.4L556.7 352.6L559.3 350.7L561.9 348.7L564.4 346.7L567.0 344.5L569.6 342.3L572.2 340.0L574.8 337.6L577.4 335.1L579.9 332.6L582.5 330.0" fill="none" stroke="#000000" stroke-width="2"/>
<ellipse cx="352.6" cy="97.3" rx="3.4" ry="2.7" fill="#000000"/>
<ellipse cx="390.9" cy="242.6" rx="3.4" ry="2.7" fill="#000000"/>
<ellipse cx="429.2" cy="325.2" rx="3.4" ry="2.7" fill="#000000"/>
<ellipse cx="467.6" cy="365.4" rx="3.4" ry="2.7" fill="#000000"/>
<ellipse cx="505.9" cy="373.4" rx="3.4" ry="2.7" fill="#000000"/>
<ellipse cx="544.2" cy="360.6" rx="3.4" ry="2.7" fill="#000000"/>
<ellipse cx="582.5" cy="330.0" rx="3.4" ry="2.7" fill="#000000"/>
<path d="M352.6 15.6L355.2 30.5L357.8 44.9L360.4 58.9L362.9 72.4L365.5 85.5L368.1 98.2L370.7 110.4L373.3 122.3L375.9 133.7L378.4 144.8L381.0 155.5L383.6 165.8L386.2 175.7L388.8 185.3L391.4 194.6L393.9 203.5L396.5 212.1L399.1 220.4L401.7 228.4L404.3 236.1L406.9 243.5L409.4 250.6L412.0 257.4L414.6 264.0L417.2 270.4L419.8 276.5L422.4 282.3L424.9 288.0L427.5 293.4L430.1 298.6L432.7 303.7L435.3 308.5L437.9 313.1L440.4 317.6L443.0 321.9L445.6 325.9L448.2 329.8L450.8 333.6L453.4 337.1L455.9 340.5L458.5 343.7L461.1 346.7L463.7 349.6L466.3 352.3L468.9 354.8L471.4 357.2L474.0 359.4L476.6 361.5L479.2 363.4L481.8 365.2L484.4 366.8L486.9 368.3L489.5 369.6L492.1 370.8L494.7 371.9L497.3 372.8L499.9 373.5L502.4 374.2L505.0 374.7L507.6 375.0L510.2 375.3L512.8 375.4L515.4 375.4L517.9 375.2L520.5 375.0L523.1 374.6L525.7 374.1L528.3 373.6L530.9 372.9L533.4 372.1L536.0 371.2L538.6 370.2L541.2 369.1L543.8 367.9L546.4 366.7L548.9 365.3L551.5 363.9L554.1 362.4L556.7 360.8L559.3 359.1L561.9 357.4L564.4 355.6L567.0 353.7L569.6 351.8L572.2 349.8L574.8 347.7L577.4 345.6L579.9 343.5L582.5 341.3" fill="none" stroke="#e8242c" stroke-width="2" stroke-dasharray="2.5,2.9"/>
<rect x="350.1" y="13.1" width="4.9" height="4.9" fill="#fff" stroke="#e8242c" stroke-width="2.5"/>
<rect x="388.5" y="190.6" width="4.9" height="4.9" fill="#fff" stroke="#e8242c" stroke-width="2.5"/>
<rect x="426.8" y="294.5" width="4.9" height="4.9" fill="#fff" stroke="#e8242c" stroke-width="2.5"/>
<rect x="465.1" y="351.1" width="4.9" height="4.9" fill="#fff" stroke="#e8242c" stroke-width="2.5"/>
<rect x="503.4" y="372.3" width="4.9" height="4.9" fill="#fff" stroke="#e8242c" stroke-width="2.5"/>
<rect x="541.7" y="365.3" width="4.9" height="4.9" fill="#fff" stroke="#e8242c" stroke-width="2.5"/>
<rect x="580.1" y="338.8" width="4.9" height="4.9" fill="#fff" stroke="#e8242c" stroke-width="2.5"/>
<path d="M352.6 151.1L355.2 162.5L357.8 173.6L360.4 184.3L362.9 194.6L365.5 204.6L368.1 214.1L370.7 223.4L373.3 232.3L375.9 240.8L378.4 249.0L381.0 256.9L383.6 264.5L386.2 271.7L388.8 278.6L391.4 285.3L393.9 291.6L396.5 297.6L399.1 303.3L401.7 308.8L404.3 313.9L406.9 318.8L409.4 323.5L412.0 327.8L414.6 331.9L417.2 335.8L419.8 339.4L422.4 342.8L424.9 346.0L427.5 348.9L430.1 351.6L432.7 354.1L435.3 356.4L437.9 358.5L440.4 360.4L443.0 362.1L445.6 363.7L448.2 365.0L450.8 366.3L453.4 367.4L455.9 368.3L458.5 369.1L461.1 369.8L463.7 370.4L466.3 370.8L468.9 371.2L471.4 371.5L474.0 371.6L476.6 371.7L479.2 371.7L481.8 371.5L484.4 371.3L486.9 371.0L489.5 370.5L492.1 369.9L494.7 369.2L497.3 368.4L499.9 367.5L502.4 366.5L505.0 365.3L507.6 364.0L510.2 362.6L512.8 361.1L515.4 359.4L517.9 357.6L520.5 355.8L523.1 353.8L525.7 351.7L528.3 349.5L530.9 347.2L533.4 344.7L536.0 342.2L538.6 339.7L541.2 337.0L543.8 334.2L546.4 331.4L548.9 328.4L551.5 325.4L554.1 322.3L556.7 319.2L559.3 315.9L561.9 312.6L564.4 309.3L567.0 305.8L569.6 302.4L572.2 298.8L574.8 295.2L577.4 291.6L579.9 287.9L582.5 284.2" fill="none" stroke="#2b4aa8" stroke-width="2" stroke-dasharray="6,3.5"/>
<path d="M352.6 148.1L355.6 151.1L352.6 154.0L349.6 151.1Z" fill="#fff" stroke="#2b4aa8" stroke-width="2.7"/>
<path d="M390.9 281.2L393.9 284.2L390.9 287.1L388.0 284.2Z" fill="#fff" stroke="#2b4aa8" stroke-width="2.7"/>
<path d="M429.2 347.8L432.2 350.7L429.2 353.7L426.3 350.7Z" fill="#fff" stroke="#2b4aa8" stroke-width="2.7"/>
<path d="M467.6 368.1L470.5 371.0L467.6 374.0L464.6 371.0Z" fill="#fff" stroke="#2b4aa8" stroke-width="2.7"/>
<path d="M505.9 361.9L508.8 364.9L505.9 367.8L502.9 364.9Z" fill="#fff" stroke="#2b4aa8" stroke-width="2.7"/>
<path d="M544.2 330.8L547.2 333.7L544.2 336.7L541.2 333.7Z" fill="#fff" stroke="#2b4aa8" stroke-width="2.7"/>
<path d="M582.5 281.2L585.5 284.2L582.5 287.1L579.6 284.2Z" fill="#fff" stroke="#2b4aa8" stroke-width="2.7"/>
<path d="M352.6 230.8L355.2 240.0L357.8 248.8L360.4 257.2L362.9 265.3L365.5 273.1L368.1 280.5L370.7 287.6L373.3 294.4L375.9 300.8L378.4 306.9L381.0 312.7L383.6 318.3L386.2 323.5L388.8 328.4L391.4 333.1L393.9 337.4L396.5 341.5L399.1 345.4L401.7 349.0L404.3 352.3L406.9 355.3L409.4 358.2L412.0 360.8L414.6 363.1L417.2 365.3L419.8 367.2L422.4 368.9L424.9 370.4L427.5 371.7L430.1 372.8L432.7 373.7L435.3 374.4L437.9 375.0L440.4 375.4L443.0 375.6L445.6 375.7L448.2 375.6L450.8 375.4L453.4 375.0L455.9 374.5L458.5 373.9L461.1 373.2L463.7 372.4L466.3 371.5L468.9 370.5L471.4 369.4L474.0 368.2L476.6 367.0L479.2 365.6L481.8 364.1L484.4 362.6L486.9 360.9L489.5 359.2L492.1 357.3L494.7 355.3L497.3 353.2L499.9 351.1L502.4 348.8L505.0 346.4L507.6 343.8L510.2 341.2L512.8 338.5L515.4 335.6L517.9 332.7L520.5 329.6L523.1 326.5L525.7 323.2L528.3 319.9L530.9 316.4L533.4 312.9L536.0 309.3L538.6 305.6L541.2 301.9L543.8 298.0L546.4 294.1L548.9 290.1L551.5 286.1L554.1 282.0L556.7 277.8L559.3 273.6L561.9 269.3L564.4 264.9L567.0 260.5L569.6 256.1L572.2 251.6L574.8 247.0L577.4 242.5L579.9 237.8L582.5 233.2" fill="none" stroke="#6a3aa0" stroke-width="2"/>
<path d="M348.7 230.8H356.5M352.6 226.9V234.8" stroke="#6a3aa0" stroke-width="2.1"/>
<path d="M387.0 332.3H394.9M390.9 328.4V336.3" stroke="#6a3aa0" stroke-width="2.1"/>
<path d="M425.3 372.4H433.2M429.2 368.5V376.4" stroke="#6a3aa0" stroke-width="2.1"/>
<path d="M463.6 371.0H471.5M467.6 367.1V375.0" stroke="#6a3aa0" stroke-width="2.1"/>
<path d="M501.9 345.5H509.8M505.9 341.6V349.5" stroke="#6a3aa0" stroke-width="2.1"/>
<path d="M540.3 297.4H548.1M544.2 293.5V301.3" stroke="#6a3aa0" stroke-width="2.1"/>
<path d="M578.6 233.2H586.5M582.5 229.3V237.1" stroke="#6a3aa0" stroke-width="2.1"/>
<path d="M352.6 238.9L355.2 248.1L357.8 256.9L360.4 265.3L362.9 273.4L365.5 281.1L368.1 288.4L370.7 295.4L373.3 302.0L375.9 308.2L378.4 314.2L381.0 319.8L383.6 325.1L386.2 330.1L388.8 334.8L391.4 339.2L393.9 343.3L396.5 347.1L399.1 350.7L401.7 354.0L404.3 357.0L406.9 359.8L409.4 362.3L412.0 364.7L414.6 366.8L417.2 368.6L419.8 370.3L422.4 371.8L424.9 373.1L427.5 374.2L430.1 375.1L432.7 375.8L435.3 376.4L437.9 376.8L440.4 377.1L443.0 377.2L445.6 377.1L448.2 376.9L450.8 376.6L453.4 376.1L455.9 375.5L458.5 374.7L461.1 373.8L463.7 372.8L466.3 371.6L468.9 370.4L471.4 369.0L474.0 367.5L476.6 365.9L479.2 364.2L481.8 362.4L484.4 360.5L486.9 358.5L489.5 356.5L492.1 354.3L494.7 352.1L497.3 349.8L499.9 347.5L502.4 345.1L505.0 342.6L507.6 340.1L510.2 337.5L512.8 334.9L515.4 332.2L517.9 329.5L520.5 326.7L523.1 323.8L525.7 320.8L528.3 317.8L530.9 314.7L533.4 311.6L536.0 308.3L538.6 304.9L541.2 301.5L543.8 298.0L546.4 294.4L548.9 290.6L551.5 286.8L554.1 282.9L556.7 278.9L559.3 274.7L561.9 270.4L564.4 266.1L567.0 261.5L569.6 256.9L572.2 252.2L574.8 247.3L577.4 242.2L579.9 237.1L582.5 231.8" fill="none" stroke="#f59a22" stroke-width="2" stroke-dasharray="5,2.5"/>
<path d="M352.6 235.6L356.4 241.5L348.8 241.5Z" fill="#fff" stroke="#f59a22" stroke-width="2.4" stroke-linejoin="round"/>
<path d="M390.9 335.2L394.7 341.1L387.1 341.1Z" fill="#fff" stroke="#f59a22" stroke-width="2.4" stroke-linejoin="round"/>
<path d="M429.2 371.5L433.0 377.4L425.5 377.4Z" fill="#fff" stroke="#f59a22" stroke-width="2.4" stroke-linejoin="round"/>
<path d="M467.6 367.7L471.3 373.6L463.8 373.6Z" fill="#fff" stroke="#f59a22" stroke-width="2.4" stroke-linejoin="round"/>
<path d="M505.9 338.5L509.7 344.4L502.1 344.4Z" fill="#fff" stroke="#f59a22" stroke-width="2.4" stroke-linejoin="round"/>
<path d="M544.2 294.1L548.0 300.0L540.4 300.0Z" fill="#fff" stroke="#f59a22" stroke-width="2.4" stroke-linejoin="round"/>
<path d="M582.5 228.5L586.3 234.4L578.7 234.4Z" fill="#fff" stroke="#f59a22" stroke-width="2.4" stroke-linejoin="round"/>
<path d="M352.6 91.6L355.2 103.9L357.8 115.9L360.4 127.6L362.9 138.9L365.5 150.0L368.1 160.7L370.7 171.2L373.3 181.3L375.9 191.1L378.4 200.7L381.0 209.9L383.6 218.9L386.2 227.5L388.8 235.9L391.4 244.0L393.9 251.8L396.5 259.3L399.1 266.5L401.7 273.5L404.3 280.1L406.9 286.6L409.4 292.7L412.0 298.5L414.6 304.1L417.2 309.5L419.8 314.5L422.4 319.3L424.9 323.9L427.5 328.2L430.1 332.2L432.7 336.0L435.3 339.6L437.9 342.9L440.4 346.0L443.0 348.9L445.6 351.5L448.2 354.0L450.8 356.4L453.4 358.5L455.9 360.5L458.5 362.3L461.1 364.0L463.7 365.6L466.3 367.0L468.9 368.4L471.4 369.6L474.0 370.7L476.6 371.7L479.2 372.6L481.8 373.4L484.4 374.0L486.9 374.6L489.5 374.9L492.1 375.2L494.7 375.3L497.3 375.3L499.9 375.2L502.4 374.9L505.0 374.5L507.6 373.9L510.2 373.2L512.8 372.4L515.4 371.4L517.9 370.2L520.5 369.0L523.1 367.6L525.7 366.1L528.3 364.5L530.9 362.7L533.4 360.9L536.0 359.0L538.6 356.9L541.2 354.8L543.8 352.5L546.4 350.2L548.9 347.8L551.5 345.3L554.1 342.7L556.7 340.1L559.3 337.4L561.9 334.6L564.4 331.8L567.0 328.9L569.6 326.0L572.2 323.0L574.8 319.9L577.4 316.9L579.9 313.7L582.5 310.6" fill="none" stroke="#1e9a46" stroke-width="2" stroke-dasharray="5,2,1.5,2"/>
<path d="M356.3 80.3L349.8 76.3L349.8 84.2Z" fill="#1e9a46" stroke="#1e9a46" stroke-width="1.0" stroke-linejoin="round"/><circle cx="352.1" cy="80.3" r="0.7" fill="#fff" opacity="0.7"/>
<path d="M394.7 242.6L388.2 238.7L388.2 246.6Z" fill="#1e9a46" stroke="#1e9a46" stroke-width="1.0" stroke-linejoin="round"/><circle cx="390.4" cy="242.6" r="0.7" fill="#fff" opacity="0.7"/>
<path d="M433.0 330.9L426.5 327.0L426.5 334.8Z" fill="#1e9a46" stroke="#1e9a46" stroke-width="1.0" stroke-linejoin="round"/><circle cx="428.7" cy="330.9" r="0.7" fill="#fff" opacity="0.7"/>
<path d="M471.3 367.7L464.8 363.8L464.8 371.7Z" fill="#1e9a46" stroke="#1e9a46" stroke-width="1.0" stroke-linejoin="round"/><circle cx="467.1" cy="367.7" r="0.7" fill="#fff" opacity="0.7"/>
<path d="M509.6 374.3L503.1 370.4L503.1 378.3Z" fill="#1e9a46" stroke="#1e9a46" stroke-width="1.0" stroke-linejoin="round"/><circle cx="505.4" cy="374.3" r="0.7" fill="#fff" opacity="0.7"/>
<path d="M547.9 352.1L541.4 348.2L541.4 356.1Z" fill="#1e9a46" stroke="#1e9a46" stroke-width="1.0" stroke-linejoin="round"/><circle cx="543.7" cy="352.1" r="0.7" fill="#fff" opacity="0.7"/>
<path d="M586.3 310.6L579.8 306.7L579.8 314.5Z" fill="#1e9a46" stroke="#1e9a46" stroke-width="1.0" stroke-linejoin="round"/><circle cx="582.0" cy="310.6" r="0.7" fill="#fff" opacity="0.7"/>
<path d="M352.6 292.2L355.2 298.7L357.8 304.8L360.4 310.7L362.9 316.3L365.5 321.7L368.1 326.7L370.7 331.5L373.3 336.1L375.9 340.3L378.4 344.3L381.0 348.1L383.6 351.6L386.2 354.9L388.8 357.9L391.4 360.6L393.9 363.1L396.5 365.4L399.1 367.4L401.7 369.2L404.3 370.8L406.9 372.2L409.4 373.3L412.0 374.2L414.6 374.9L417.2 375.4L419.8 375.6L422.4 375.7L424.9 375.5L427.5 375.2L430.1 374.6L432.7 373.8L435.3 372.9L437.9 371.7L440.4 370.4L443.0 368.9L445.6 367.2L448.2 365.4L450.8 363.4L453.4 361.2L455.9 358.8L458.5 356.4L461.1 353.7L463.7 350.9L466.3 348.0L468.9 344.9L471.4 341.7L474.0 338.4L476.6 335.0L479.2 331.4L481.8 327.7L484.4 323.9L486.9 319.9L489.5 315.9L492.1 311.7L494.7 307.5L497.3 303.1L499.9 298.7L502.4 294.2L505.0 289.5L507.6 284.8L510.2 280.0L512.8 275.1L515.4 270.1L517.9 265.1L520.5 260.0L523.1 254.8L525.7 249.6L528.3 244.3L530.9 238.9L533.4 233.5L536.0 228.1L538.6 222.6L541.2 217.0L543.8 211.5L546.4 205.9L548.9 200.2L551.5 194.6L554.1 188.9L556.7 183.2L559.3 177.5L561.9 171.8L564.4 166.0L567.0 160.3L569.6 154.6L572.2 148.9L574.8 143.1L577.4 137.4L579.9 131.7L582.5 126.1" fill="none" stroke="#7e3a86" stroke-width="2"/>
<rect x="349.3" y="288.9" width="6.6" height="6.6" fill="#7e3a86"/><path d="M351.4 293.4L354.1 290.7" stroke="#fff" stroke-width="0.9"/>
<rect x="387.6" y="356.9" width="6.6" height="6.6" fill="#7e3a86"/><path d="M389.7 361.4L392.4 358.7" stroke="#fff" stroke-width="0.9"/>
<rect x="426.0" y="371.5" width="6.6" height="6.6" fill="#7e3a86"/><path d="M428.0 376.0L430.7 373.3" stroke="#fff" stroke-width="0.9"/>
<rect x="464.3" y="343.2" width="6.6" height="6.6" fill="#7e3a86"/><path d="M466.3 347.7L469.0 345.0" stroke="#fff" stroke-width="0.9"/>
<rect x="502.6" y="284.7" width="6.6" height="6.6" fill="#7e3a86"/><path d="M504.7 289.2L507.4 286.5" stroke="#fff" stroke-width="0.9"/>
<rect x="540.9" y="207.3" width="6.6" height="6.6" fill="#7e3a86"/><path d="M543.0 211.8L545.7 209.1" stroke="#fff" stroke-width="0.9"/>
<rect x="579.2" y="122.8" width="6.6" height="6.6" fill="#7e3a86"/><path d="M581.3 127.3L584.0 124.6" stroke="#fff" stroke-width="0.9"/>
<path d="M352.6 246.9L355.2 255.1L357.8 262.9L360.4 270.5L362.9 277.7L365.5 284.7L368.1 291.4L370.7 297.8L373.3 303.9L375.9 309.7L378.4 315.3L381.0 320.6L383.6 325.6L386.2 330.4L388.8 334.9L391.4 339.1L393.9 343.2L396.5 346.9L399.1 350.4L401.7 353.7L404.3 356.7L406.9 359.5L409.4 362.1L412.0 364.5L414.6 366.6L417.2 368.6L419.8 370.3L422.4 371.8L424.9 373.1L427.5 374.2L430.1 375.1L432.7 375.8L435.3 376.3L437.9 376.7L440.4 376.9L443.0 376.9L445.6 376.8L448.2 376.5L450.8 376.2L453.4 375.7L455.9 375.0L458.5 374.3L461.1 373.5L463.7 372.6L466.3 371.6L468.9 370.5L471.4 369.3L474.0 368.1L476.6 366.8L479.2 365.4L481.8 364.0L484.4 362.4L486.9 360.8L489.5 359.0L492.1 357.2L494.7 355.2L497.3 353.2L499.9 351.0L502.4 348.8L505.0 346.4L507.6 343.8L510.2 341.2L512.8 338.5L515.4 335.6L517.9 332.6L520.5 329.6L523.1 326.4L525.7 323.1L528.3 319.8L530.9 316.3L533.4 312.8L536.0 309.2L538.6 305.6L541.2 301.8L543.8 298.0L546.4 294.2L548.9 290.3L551.5 286.3L554.1 282.3L556.7 278.3L559.3 274.2L561.9 270.1L564.4 265.9L567.0 261.8L569.6 257.6L572.2 253.4L574.8 249.2L577.4 244.9L579.9 240.7L582.5 236.5" fill="none" stroke="#b56ec8" stroke-width="2" stroke-dasharray="2,3"/>
<path d="M350.0 244.8H355.2M347.5 246.9H357.7M349.6 249.0H355.6M350.5 243.8V250.0M352.6 242.6V251.2M354.7 243.8V250.0" stroke="#b56ec8" stroke-width="1.1"/><path d="M349.6 245.7L351.4 243.6M355.6 245.7L353.8 243.6M349.6 248.1L351.4 250.2M355.6 248.1L353.8 250.2" stroke="#b56ec8" stroke-width="1.1"/>
<path d="M388.3 336.3H393.5M385.8 338.5H396.0M388.0 340.6H393.9M388.8 335.3V341.6M390.9 334.2V342.7M393.1 335.3V341.6" stroke="#b56ec8" stroke-width="1.1"/><path d="M388.0 337.2L389.7 335.2M393.9 337.2L392.2 335.2M388.0 339.7L389.7 341.7M393.9 339.7L392.2 341.7" stroke="#b56ec8" stroke-width="1.1"/>
<path d="M426.6 372.7H431.9M424.2 374.8H434.3M426.3 376.9H432.2M427.1 371.7V377.9M429.2 370.5V379.1M431.4 371.7V377.9" stroke="#b56ec8" stroke-width="1.1"/><path d="M426.3 373.6L428.0 371.5M432.2 373.6L430.5 371.5M426.3 376.0L428.0 378.1M432.2 376.0L430.5 378.1" stroke="#b56ec8" stroke-width="1.1"/>
<path d="M464.9 368.9H470.2M462.5 371.0H472.6M464.6 373.2H470.5M465.4 367.9V374.1M467.6 366.8V375.3M469.7 367.9V374.1" stroke="#b56ec8" stroke-width="1.1"/><path d="M464.6 369.8L466.3 367.7M470.5 369.8L468.8 367.7M464.6 372.3L466.3 374.3M470.5 372.3L468.8 374.3" stroke="#b56ec8" stroke-width="1.1"/>
<path d="M503.3 343.4H508.5M500.8 345.5H511.0M502.9 347.7H508.8M503.7 342.4V348.7M505.9 341.3V349.8M508.0 342.4V348.7" stroke="#b56ec8" stroke-width="1.1"/><path d="M502.9 344.3L504.7 342.3M508.8 344.3L507.1 342.3M502.9 346.8L504.7 348.8M508.8 346.8L507.1 348.8" stroke="#b56ec8" stroke-width="1.1"/>
<path d="M541.6 295.3H546.8M539.1 297.4H549.3M541.2 299.5H547.2M542.1 294.3V300.5M544.2 293.1V301.7M546.3 294.3V300.5" stroke="#b56ec8" stroke-width="1.1"/><path d="M541.2 296.2L543.0 294.1M547.2 296.2L545.4 294.1M541.2 298.6L543.0 300.7M547.2 298.6L545.4 300.7" stroke="#b56ec8" stroke-width="1.1"/>
<path d="M579.9 234.4H585.1M577.4 236.5H587.6M579.6 238.6H585.5M580.4 233.4V239.6M582.5 232.2V240.8M584.7 233.4V239.6" stroke="#b56ec8" stroke-width="1.1"/><path d="M579.6 235.3L581.3 233.2M585.5 235.3L583.8 233.2M579.6 237.7L581.3 239.8M585.5 237.7L583.8 239.8" stroke="#b56ec8" stroke-width="1.1"/>
<path d="M352.6 300.7L355.2 306.1L357.8 311.3L360.4 316.2L362.9 321.0L365.5 325.6L368.1 330.0L370.7 334.2L373.3 338.2L375.9 342.0L378.4 345.6L381.0 349.0L383.6 352.2L386.2 355.2L388.8 358.0L391.4 360.6L393.9 363.0L396.5 365.1L399.1 367.1L401.7 368.9L404.3 370.5L406.9 371.8L409.4 373.0L412.0 373.9L414.6 374.6L417.2 375.2L419.8 375.5L422.4 375.6L424.9 375.5L427.5 375.1L430.1 374.6L432.7 373.9L435.3 372.9L437.9 371.8L440.4 370.4L443.0 368.9L445.6 367.2L448.2 365.3L450.8 363.3L453.4 361.1L455.9 358.7L458.5 356.3L461.1 353.6L463.7 350.9L466.3 348.0L468.9 345.0L471.4 341.8L474.0 338.6L476.6 335.2L479.2 331.8L481.8 328.2L484.4 324.5L486.9 320.7L489.5 316.8L492.1 312.9L494.7 308.8L497.3 304.6L499.9 300.3L502.4 295.9L505.0 291.4L507.6 286.8L510.2 282.1L512.8 277.3L515.4 272.5L517.9 267.5L520.5 262.5L523.1 257.4L525.7 252.2L528.3 247.0L530.9 241.7L533.4 236.3L536.0 230.9L538.6 225.4L541.2 219.9L543.8 214.3L546.4 208.7L548.9 203.0L551.5 197.3L554.1 191.6L556.7 185.8L559.3 180.0L561.9 174.2L564.4 168.3L567.0 162.4L569.6 156.5L572.2 150.6L574.8 144.7L577.4 138.8L579.9 132.9L582.5 127.0" fill="none" stroke="#f07a80" stroke-width="2"/>
<path d="M352.6 296.7L357.2 303.9L348.0 303.9Z" fill="#fff" stroke="#f07a80" stroke-width="1.6" stroke-linejoin="round"/>
<path d="M390.9 356.2L395.5 363.4L386.3 363.4Z" fill="#fff" stroke="#f07a80" stroke-width="1.6" stroke-linejoin="round"/>
<path d="M429.2 370.8L433.9 378.0L424.6 378.0Z" fill="#fff" stroke="#f07a80" stroke-width="1.6" stroke-linejoin="round"/>
<path d="M467.6 342.5L472.2 349.7L462.9 349.7Z" fill="#fff" stroke="#f07a80" stroke-width="1.6" stroke-linejoin="round"/>
<path d="M505.9 285.8L510.5 293.1L501.3 293.1Z" fill="#fff" stroke="#f07a80" stroke-width="1.6" stroke-linejoin="round"/>
<path d="M544.2 209.4L548.8 216.6L539.6 216.6Z" fill="#fff" stroke="#f07a80" stroke-width="1.6" stroke-linejoin="round"/>
<path d="M582.5 123.0L587.1 130.2L577.9 130.2Z" fill="#fff" stroke="#f07a80" stroke-width="1.6" stroke-linejoin="round"/>
<path d="M352.6 275.7L355.2 283.0L357.8 289.9L360.4 296.5L362.9 302.7L365.5 308.6L368.1 314.2L370.7 319.4L373.3 324.4L375.9 329.0L378.4 333.4L381.0 337.5L383.6 341.3L386.2 344.8L388.8 348.2L391.4 351.2L393.9 354.1L396.5 356.7L399.1 359.1L401.7 361.3L404.3 363.3L406.9 365.1L409.4 366.8L412.0 368.3L414.6 369.6L417.2 370.8L419.8 371.9L422.4 372.8L424.9 373.7L427.5 374.4L430.1 375.0L432.7 375.5L435.3 376.0L437.9 376.3L440.4 376.5L443.0 376.6L445.6 376.6L448.2 376.4L450.8 376.1L453.4 375.6L455.9 375.0L458.5 374.2L461.1 373.3L463.7 372.1L466.3 370.8L468.9 369.3L471.4 367.6L474.0 365.7L476.6 363.7L479.2 361.5L481.8 359.1L484.4 356.7L486.9 354.0L489.5 351.3L492.1 348.5L494.7 345.6L497.3 342.6L499.9 339.6L502.4 336.5L505.0 333.4L507.6 330.2L510.2 327.0L512.8 323.8L515.4 320.5L517.9 317.2L520.5 313.9L523.1 310.5L525.7 307.1L528.3 303.7L530.9 300.2L533.4 296.6L536.0 293.0L538.6 289.4L541.2 285.7L543.8 282.0L546.4 278.2L548.9 274.3L551.5 270.4L554.1 266.4L556.7 262.4L559.3 258.3L561.9 254.1L564.4 249.9L567.0 245.6L569.6 241.2L572.2 236.7L574.8 232.2L577.4 227.6L579.9 222.9L582.5 218.1" fill="none" stroke="#7a7a7a" stroke-width="2"/>
<path d="M349.8 272.9L355.4 278.5M355.4 272.9L349.8 278.5" stroke="#3a3a3a" stroke-width="2.0" stroke-linecap="round"/>
<path d="M388.1 347.9L393.7 353.5M393.7 347.9L388.1 353.5" stroke="#3a3a3a" stroke-width="2.0" stroke-linecap="round"/>
<path d="M426.5 372.0L432.0 377.6M432.0 372.0L426.5 377.6" stroke="#3a3a3a" stroke-width="2.0" stroke-linecap="round"/>
<path d="M464.8 367.3L470.3 372.9M470.3 367.3L464.8 372.9" stroke="#3a3a3a" stroke-width="2.0" stroke-linecap="round"/>
<path d="M503.1 329.5L508.7 335.1M508.7 329.5L503.1 335.1" stroke="#3a3a3a" stroke-width="2.0" stroke-linecap="round"/>
<path d="M541.4 278.6L547.0 284.1M547.0 278.6L541.4 284.1" stroke="#3a3a3a" stroke-width="2.0" stroke-linecap="round"/>
<path d="M579.7 215.3L585.3 220.9M585.3 215.3L579.7 220.9" stroke="#3a3a3a" stroke-width="2.0" stroke-linecap="round"/>
<path d="M352.6 326.2L355.2 331.3L357.8 336.1L360.4 340.6L362.9 344.8L365.5 348.8L368.1 352.4L370.7 355.8L373.3 359.0L375.9 361.8L378.4 364.5L381.0 366.9L383.6 369.0L386.2 370.9L388.8 372.6L391.4 374.1L393.9 375.4L396.5 376.4L399.1 377.3L401.7 377.9L404.3 378.4L406.9 378.7L409.4 378.9L412.0 378.8L414.6 378.6L417.2 378.3L419.8 377.8L422.4 377.1L424.9 376.4L427.5 375.5L430.1 374.4L432.7 373.3L435.3 372.1L437.9 370.7L440.4 369.2L443.0 367.6L445.6 365.9L448.2 364.2L450.8 362.3L453.4 360.3L455.9 358.2L458.5 356.1L461.1 353.9L463.7 351.5L466.3 349.1L468.9 346.6L471.4 344.1L474.0 341.5L476.6 338.8L479.2 336.0L481.8 333.1L484.4 330.2L486.9 327.3L489.5 324.2L492.1 321.1L494.7 317.9L497.3 314.7L499.9 311.4L502.4 308.1L505.0 304.7L507.6 301.2L510.2 297.7L512.8 294.1L515.4 290.5L517.9 286.9L520.5 283.2L523.1 279.4L525.7 275.6L528.3 271.8L530.9 267.9L533.4 264.0L536.0 260.1L538.6 256.1L541.2 252.1L543.8 248.0L546.4 244.0L548.9 239.9L551.5 235.8L554.1 231.6L556.7 227.4L559.3 223.3L561.9 219.1L564.4 214.9L567.0 210.6L569.6 206.4L572.2 202.1L574.8 197.9L577.4 193.6L579.9 189.3L582.5 185.1" fill="none" stroke="#3cbcc0" stroke-width="2" stroke-dasharray="6,2,2,2"/>
<path d="M347.4 323.2L357.8 323.2L352.6 330.9Z" fill="#3cbcc0"/>
<path d="M385.8 370.9L396.1 370.9L390.9 378.6Z" fill="#3cbcc0"/>
<path d="M424.1 371.8L434.4 371.8L429.2 379.6Z" fill="#3cbcc0"/>
<path d="M462.4 344.9L472.7 344.9L467.6 352.7Z" fill="#3cbcc0"/>
<path d="M500.7 300.6L511.0 300.6L505.9 308.3Z" fill="#3cbcc0"/>
<path d="M539.0 244.4L549.4 244.4L544.2 252.1Z" fill="#3cbcc0"/>
<path d="M577.4 182.1L587.7 182.1L582.5 189.8Z" fill="#3cbcc0"/>
<path d="M352.6 291.7L355.2 298.5L357.8 304.8L360.4 310.9L362.9 316.7L365.5 322.1L368.1 327.2L370.7 332.0L373.3 336.6L375.9 340.8L378.4 344.8L381.0 348.5L383.6 351.9L386.2 355.0L388.8 357.9L391.4 360.6L393.9 363.0L396.5 365.2L399.1 367.1L401.7 368.8L404.3 370.3L406.9 371.6L409.4 372.7L412.0 373.6L414.6 374.2L417.2 374.7L419.8 375.1L422.4 375.2L424.9 375.2L427.5 375.0L430.1 374.7L432.7 374.2L435.3 373.5L437.9 372.8L440.4 371.8L443.0 370.8L445.6 369.6L448.2 368.2L450.8 366.7L453.4 365.1L455.9 363.4L458.5 361.5L461.1 359.5L463.7 357.4L466.3 355.2L468.9 352.8L471.4 350.4L474.0 347.8L476.6 345.1L479.2 342.3L481.8 339.4L484.4 336.4L486.9 333.3L489.5 330.2L492.1 326.9L494.7 323.6L497.3 320.2L499.9 316.7L502.4 313.1L505.0 309.5L507.6 305.8L510.2 302.0L512.8 298.2L515.4 294.3L517.9 290.4L520.5 286.4L523.1 282.4L525.7 278.3L528.3 274.1L530.9 269.9L533.4 265.7L536.0 261.4L538.6 257.0L541.2 252.6L543.8 248.1L546.4 243.6L548.9 239.0L551.5 234.4L554.1 229.8L556.7 225.0L559.3 220.3L561.9 215.5L564.4 210.7L567.0 205.8L569.6 200.8L572.2 195.9L574.8 190.9L577.4 185.8L579.9 180.7L582.5 175.6" fill="none" stroke="#f5a02a" stroke-width="2" stroke-dasharray="3,2.2"/>
<path d="M354.6 292.5L356.5 293.2M353.4 293.5L354.2 295.3M351.8 293.5L351.0 295.3M350.6 292.5L348.7 293.2M350.6 291.0L348.7 290.3M351.8 289.9L351.0 288.2M353.4 289.9L354.2 288.2M354.6 291.0L356.5 290.3" stroke="#f5a02a" stroke-width="2.1" stroke-linecap="round"/>
<path d="M392.9 360.9L394.9 361.6M391.7 362.0L392.6 363.7M390.1 362.0L389.3 363.7M389.0 360.9L387.0 361.6M389.0 359.4L387.0 358.7M390.1 358.3L389.3 356.6M391.7 358.3L392.6 356.6M392.9 359.4L394.9 358.7" stroke="#f5a02a" stroke-width="2.1" stroke-linecap="round"/>
<path d="M431.2 375.6L433.2 376.3M430.1 376.6L430.9 378.4M428.4 376.6L427.6 378.4M427.3 375.6L425.3 376.3M427.3 374.0L425.3 373.3M428.4 373.0L427.6 371.2M430.1 373.0L430.9 371.2M431.2 374.0L433.2 373.3" stroke="#f5a02a" stroke-width="2.1" stroke-linecap="round"/>
<path d="M469.5 354.8L471.5 355.5M468.4 355.9L469.2 357.6M466.7 355.9L465.9 357.6M465.6 354.8L463.6 355.5M465.6 353.3L463.6 352.6M466.7 352.2L465.9 350.5M468.4 352.2L469.2 350.5M469.5 353.3L471.5 352.6" stroke="#f5a02a" stroke-width="2.1" stroke-linecap="round"/>
<path d="M507.8 309.0L509.8 309.7M506.7 310.1L507.5 311.8M505.1 310.1L504.2 311.8M503.9 309.0L501.9 309.7M503.9 307.5L501.9 306.8M505.1 306.4L504.2 304.7M506.7 306.4L507.5 304.7M507.8 307.5L509.8 306.8" stroke="#f5a02a" stroke-width="2.1" stroke-linecap="round"/>
<path d="M546.2 248.1L548.1 248.8M545.0 249.2L545.8 250.9M543.4 249.2L542.6 250.9M542.2 248.1L540.3 248.8M542.2 246.6L540.3 245.9M543.4 245.5L542.6 243.8M545.0 245.5L545.8 243.8M546.2 246.6L548.1 245.9" stroke="#f5a02a" stroke-width="2.1" stroke-linecap="round"/>
<path d="M584.5 176.4L586.5 177.1M583.3 177.4L584.2 179.2M581.7 177.4L580.9 179.2M580.6 176.4L578.6 177.1M580.6 174.9L578.6 174.1M581.7 173.8L580.9 172.1M583.3 173.8L584.2 172.1M584.5 174.9L586.5 174.1" stroke="#f5a02a" stroke-width="2.1" stroke-linecap="round"/>
<path d="M352.6 245.0L355.2 253.5L357.8 261.6L360.4 269.4L362.9 276.8L365.5 284.0L368.1 290.8L370.7 297.4L373.3 303.6L375.9 309.5L378.4 315.1L381.0 320.5L383.6 325.6L386.2 330.4L388.8 334.9L391.4 339.1L393.9 343.2L396.5 346.9L399.1 350.4L401.7 353.7L404.3 356.7L406.9 359.5L409.4 362.0L412.0 364.4L414.6 366.5L417.2 368.4L419.8 370.2L422.4 371.7L424.9 373.0L427.5 374.1L430.1 375.1L432.7 375.9L435.3 376.5L437.9 376.9L440.4 377.2L443.0 377.3L445.6 377.3L448.2 377.1L450.8 376.7L453.4 376.2L455.9 375.6L458.5 374.8L461.1 373.9L463.7 372.8L466.3 371.7L468.9 370.4L471.4 368.9L474.0 367.4L476.6 365.7L479.2 364.0L481.8 362.1L484.4 360.1L486.9 358.0L489.5 355.8L492.1 353.5L494.7 351.0L497.3 348.5L499.9 345.9L502.4 343.2L505.0 340.4L507.6 337.5L510.2 334.5L512.8 331.4L515.4 328.2L517.9 324.9L520.5 321.6L523.1 318.2L525.7 314.7L528.3 311.1L530.9 307.5L533.4 303.7L536.0 299.9L538.6 296.1L541.2 292.1L543.8 288.2L546.4 284.1L548.9 280.0L551.5 275.8L554.1 271.6L556.7 267.3L559.3 262.9L561.9 258.6L564.4 254.1L567.0 249.6L569.6 245.1L572.2 240.5L574.8 235.9L577.4 231.3L579.9 226.6L582.5 221.9" fill="none" stroke="#2c4cb4" stroke-width="2"/>
<path d="M350.1 244.1A2.7 2.7 0 1 1 350.5 246.7" fill="none" stroke="#2c4cb4" stroke-width="1.8"/><circle cx="352.6" cy="245.0" r="0.9" fill="#2c4cb4"/>
<path d="M388.4 337.5A2.7 2.7 0 1 1 388.8 340.2" fill="none" stroke="#2c4cb4" stroke-width="1.8"/><circle cx="390.9" cy="338.5" r="0.9" fill="#2c4cb4"/>
<path d="M426.7 373.9A2.7 2.7 0 1 1 427.2 376.5" fill="none" stroke="#2c4cb4" stroke-width="1.8"/><circle cx="429.2" cy="374.8" r="0.9" fill="#2c4cb4"/>
<path d="M465.0 370.1A2.7 2.7 0 1 1 465.5 372.8" fill="none" stroke="#2c4cb4" stroke-width="1.8"/><circle cx="467.6" cy="371.0" r="0.9" fill="#2c4cb4"/>
<path d="M503.3 338.5A2.7 2.7 0 1 1 503.8 341.1" fill="none" stroke="#2c4cb4" stroke-width="1.8"/><circle cx="505.9" cy="339.4" r="0.9" fill="#2c4cb4"/>
<path d="M541.7 286.6A2.7 2.7 0 1 1 542.1 289.2" fill="none" stroke="#2c4cb4" stroke-width="1.8"/><circle cx="544.2" cy="287.5" r="0.9" fill="#2c4cb4"/>
<path d="M580.0 220.9A2.7 2.7 0 1 1 580.4 223.6" fill="none" stroke="#2c4cb4" stroke-width="1.8"/><circle cx="582.5" cy="221.9" r="0.9" fill="#2c4cb4"/>
</g>
<rect x="38" y="2.5" width="260" height="414.9" fill="none" stroke="#000" stroke-width="2"/>
<path d="M52.6 417.4V407.4M52.6 2.5V12.5M71.8 417.4V412.4M71.8 2.5V7.5M91.0 417.4V407.4M91.0 2.5V12.5M110.2 417.4V412.4M110.2 2.5V7.5M129.5 417.4V407.4M129.5 2.5V12.5M148.7 417.4V412.4M148.7 2.5V7.5M167.9 417.4V407.4M167.9 2.5V12.5M187.1 417.4V412.4M187.1 2.5V7.5M206.3 417.4V407.4M206.3 2.5V12.5M225.5 417.4V412.4M225.5 2.5V7.5M244.8 417.4V407.4M244.8 2.5V12.5M264.0 417.4V412.4M264.0 2.5V7.5M283.2 417.4V407.4M283.2 2.5V12.5M38 404.6H43M298 404.6H293M38 388.5H48M298 388.5H288M38 372.4H43M298 372.4H293M38 356.3H48M298 356.3H288M38 340.1H43M298 340.1H293M38 324.0H48M298 324.0H288M38 307.9H43M298 307.9H293M38 291.8H48M298 291.8H288M38 275.7H43M298 275.7H293M38 259.5H48M298 259.5H288M38 243.4H43M298 243.4H293M38 227.3H48M298 227.3H288M38 211.2H43M298 211.2H293M38 195.1H48M298 195.1H288M38 178.9H43M298 178.9H293M38 162.8H48M298 162.8H288M38 146.7H43M298 146.7H293M38 130.6H48M298 130.6H288M38 114.5H43M298 114.5H293M38 98.3H48M298 98.3H288M38 82.2H43M298 82.2H293M38 66.1H48M298 66.1H288M38 50.0H43M298 50.0H293M38 33.9H48M298 33.9H288M38 17.7H43M298 17.7H293" stroke="#000" stroke-width="2" fill="none"/>
<text x="52.6" y="430.6" class="tl" text-anchor="middle">0.85</text>
<text x="91.0" y="430.6" class="tl" text-anchor="middle">0.9</text>
<text x="129.5" y="430.6" class="tl" text-anchor="middle">0.95</text>
<text x="167.9" y="430.6" class="tl" text-anchor="middle">1</text>
<text x="206.3" y="430.6" class="tl" text-anchor="middle">1.05</text>
<text x="244.8" y="430.6" class="tl" text-anchor="middle">1.1</text>
<text x="283.2" y="430.6" class="tl" text-anchor="middle">1.15</text>
<text x="33.0" y="392.7" class="tl" text-anchor="end">0</text>
<text x="33.0" y="360.5" class="tl" text-anchor="end">0.1</text>
<text x="33.0" y="328.2" class="tl" text-anchor="end">0.2</text>
<text x="33.0" y="296.0" class="tl" text-anchor="end">0.3</text>
<text x="33.0" y="263.7" class="tl" text-anchor="end">0.4</text>
<text x="33.0" y="231.5" class="tl" text-anchor="end">0.5</text>
<text x="33.0" y="199.3" class="tl" text-anchor="end">0.6</text>
<text x="33.0" y="167.0" class="tl" text-anchor="end">0.7</text>
<text x="33.0" y="134.8" class="tl" text-anchor="end">0.8</text>
<text x="33.0" y="102.5" class="tl" text-anchor="end">0.9</text>
<text x="33.0" y="70.3" class="tl" text-anchor="end">1</text>
<text x="33.0" y="38.1" class="tl" text-anchor="end">1.1</text>
<rect x="337.5" y="2.5" width="259.5" height="414.9" fill="none" stroke="#000" stroke-width="2"/>
<path d="M352.6 417.4V407.4M352.6 2.5V12.5M371.8 417.4V412.4M371.8 2.5V7.5M390.9 417.4V407.4M390.9 2.5V12.5M410.1 417.4V412.4M410.1 2.5V7.5M429.2 417.4V407.4M429.2 2.5V12.5M448.4 417.4V412.4M448.4 2.5V7.5M467.6 417.4V407.4M467.6 2.5V12.5M486.7 417.4V412.4M486.7 2.5V7.5M505.9 417.4V407.4M505.9 2.5V12.5M525.0 417.4V412.4M525.0 2.5V7.5M544.2 417.4V407.4M544.2 2.5V12.5M563.4 417.4V412.4M563.4 2.5V7.5M582.5 417.4V407.4M582.5 2.5V12.5M337.5 398.4H342.5M597 398.4H592M337.5 374.8H347.5M597 374.8H587M337.5 351.2H342.5M597 351.2H592M337.5 327.6H347.5M597 327.6H587M337.5 304.0H342.5M597 304.0H592M337.5 280.4H347.5M597 280.4H587M337.5 256.8H342.5M597 256.8H592M337.5 233.2H347.5M597 233.2H587M337.5 209.6H342.5M597 209.6H592M337.5 186.0H347.5M597 186.0H587M337.5 162.4H342.5M597 162.4H592M337.5 138.8H347.5M597 138.8H587M337.5 115.2H342.5M597 115.2H592M337.5 91.6H347.5M597 91.6H587M337.5 68.0H342.5M597 68.0H592M337.5 44.4H347.5M597 44.4H587M337.5 20.8H342.5M597 20.8H592" stroke="#000" stroke-width="2" fill="none"/>
<text x="352.6" y="430.6" class="tl" text-anchor="middle">0.85</text>
<text x="390.9" y="430.6" class="tl" text-anchor="middle">0.9</text>
<text x="429.2" y="430.6" class="tl" text-anchor="middle">0.95</text>
<text x="467.6" y="430.6" class="tl" text-anchor="middle">1</text>
<text x="505.9" y="430.6" class="tl" text-anchor="middle">1.05</text>
<text x="544.2" y="430.6" class="tl" text-anchor="middle">1.1</text>
<text x="582.5" y="430.6" class="tl" text-anchor="middle">1.15</text>
<text x="332.5" y="379.0" class="tl" text-anchor="end">0</text>
<text x="332.5" y="331.8" class="tl" text-anchor="end">0.1</text>
<text x="332.5" y="284.6" class="tl" text-anchor="end">0.2</text>
<text x="332.5" y="237.4" class="tl" text-anchor="end">0.3</text>
<text x="332.5" y="190.2" class="tl" text-anchor="end">0.4</text>
<text x="332.5" y="143.0" class="tl" text-anchor="end">0.5</text>
<text x="332.5" y="95.8" class="tl" text-anchor="end">0.6</text>
<text x="332.5" y="48.6" class="tl" text-anchor="end">0.7</text>
<ellipse cx="170.8" cy="27.0" rx="4.1" ry="3.3" fill="#000000"/>
<text x="190.5" y="30.6" class="lg">Without-vdW</text>
<rect x="167.8" y="36.3" width="6.0" height="6.0" fill="#fff" stroke="#e8242c" stroke-width="3.0"/>
<text x="190.5" y="42.9" class="lg">revPBE-vdW</text>
<path d="M170.8 49.0L174.4 52.6L170.8 56.2L167.2 52.6Z" fill="#fff" stroke="#2b4aa8" stroke-width="3.3"/>
<text x="190.5" y="56.2" class="lg">optPBE-vdW</text>
<path d="M166.0 67.2H175.6M170.8 62.4V72.0" stroke="#6a3aa0" stroke-width="2.6"/>
<text x="190.5" y="70.8" class="lg">optB88-vdW</text>
<path d="M170.8 76.5L175.4 83.7L166.2 83.7Z" fill="#fff" stroke="#f59a22" stroke-width="2.9" stroke-linejoin="round"/>
<text x="190.5" y="84.1" class="lg">optB86b-vdW</text>
<path d="M175.4 94.4L167.4 89.6L167.4 99.2Z" fill="#1e9a46" stroke="#1e9a46" stroke-width="1.2" stroke-linejoin="round"/><circle cx="170.3" cy="94.4" r="0.9" fill="#fff" opacity="0.7"/>
<text x="190.5" y="98.0" class="lg">rPW86-vdW</text>
<rect x="166.8" y="103.2" width="8.0" height="8.0" fill="#7e3a86"/><path d="M169.3 108.7L172.6 105.4" stroke="#fff" stroke-width="1.1"/>
<text x="190.5" y="110.8" class="lg">DFT-D2-vdW</text>
<path d="M167.6 116.2H174.0M164.6 118.8H177.0M167.2 121.4H174.4M168.2 115.0V122.6M170.8 113.6V124.0M173.4 115.0V122.6" stroke="#b56ec8" stroke-width="1.3"/><path d="M167.2 117.3L169.3 114.8M174.4 117.3L172.3 114.8M167.2 120.3L169.3 122.8M174.4 120.3L172.3 122.8" stroke="#b56ec8" stroke-width="1.3"/>
<text x="190.5" y="122.4" class="lg">DFT-D3-vdW</text>
<path d="M170.8 125.6L176.4 134.4L165.2 134.4Z" fill="#fff" stroke="#f07a80" stroke-width="1.9" stroke-linejoin="round"/>
<text x="190.5" y="134.1" class="lg">TS-vdW</text>
<path d="M167.4 139.6L174.2 146.4M174.2 139.6L167.4 146.4" stroke="#3a3a3a" stroke-width="2.4" stroke-linecap="round"/>
<text x="190.5" y="146.6" class="lg">TS+SCS-vdW</text>
<path d="M164.5 151.9L177.1 151.9L170.8 161.3Z" fill="#3cbcc0"/>
<text x="190.5" y="159.1" class="lg">TS-HI-vdW</text>
<path d="M173.2 168.6L175.6 169.5M171.8 169.9L172.8 172.0M169.8 169.9L168.8 172.0M168.4 168.6L166.0 169.5M168.4 166.8L166.0 165.9M169.8 165.5L168.8 163.4M171.8 165.5L172.8 163.4M173.2 166.8L175.6 165.9" stroke="#f5a02a" stroke-width="2.6" stroke-linecap="round"/>
<text x="190.5" y="171.3" class="lg">MBD-vdW</text>
<path d="M167.7 178.2A3.3 3.3 0 1 1 168.3 181.4" fill="none" stroke="#2c4cb4" stroke-width="2.2"/><circle cx="170.8" cy="179.3" r="1.1" fill="#2c4cb4"/>
<text x="190.5" y="182.9" class="lg">dDSc-vdW</text>
<ellipse cx="478.6" cy="30.6" rx="3.4" ry="2.7" fill="#000000"/>
<text x="498.4" y="34.2" class="lg2">Without-vdW</text>
<rect x="476.1" y="40.7" width="4.9" height="4.9" fill="#fff" stroke="#e8242c" stroke-width="2.5"/>
<text x="498.4" y="46.8" class="lg2">revPBE-vdW</text>
<path d="M478.6 54.6L481.6 57.6L478.6 60.6L475.6 57.6Z" fill="#fff" stroke="#2b4aa8" stroke-width="2.7"/>
<text x="498.4" y="61.2" class="lg2">optPBE-vdW</text>
<path d="M474.7 73.1H482.5M478.6 69.2V77.0" stroke="#6a3aa0" stroke-width="2.1"/>
<text x="498.4" y="76.7" class="lg2">optB88-vdW</text>
<path d="M478.6 84.2L482.4 90.1L474.8 90.1Z" fill="#fff" stroke="#f59a22" stroke-width="2.4" stroke-linejoin="round"/>
<text x="498.4" y="91.1" class="lg2">optB86b-vdW</text>
<path d="M482.3 102.3L475.8 98.4L475.8 106.2Z" fill="#1e9a46" stroke="#1e9a46" stroke-width="1.0" stroke-linejoin="round"/><circle cx="478.1" cy="102.3" r="0.7" fill="#fff" opacity="0.7"/>
<text x="498.4" y="105.9" class="lg2">rPW86-vdW</text>
<rect x="475.3" y="112.0" width="6.6" height="6.6" fill="#7e3a86"/><path d="M477.4 116.5L480.1 113.8" stroke="#fff" stroke-width="0.9"/>
<text x="498.4" y="118.9" class="lg2">DFT-D2-vdW</text>
<path d="M476.0 126.2H481.2M473.5 128.3H483.7M475.6 130.4H481.6M476.5 125.2V131.4M478.6 124.0V132.6M480.7 125.2V131.4" stroke="#b56ec8" stroke-width="1.1"/><path d="M475.6 127.1L477.4 125.0M481.6 127.1L479.8 125.0M475.6 129.5L477.4 131.6M481.6 129.5L479.8 131.6" stroke="#b56ec8" stroke-width="1.1"/>
<text x="498.4" y="131.9" class="lg2">DFT-D3-vdW</text>
<path d="M478.6 136.9L483.2 144.1L474.0 144.1Z" fill="#fff" stroke="#f07a80" stroke-width="1.6" stroke-linejoin="round"/>
<text x="498.4" y="144.5" class="lg2">TS-vdW</text>
<path d="M475.8 150.7L481.4 156.3M481.4 150.7L475.8 156.3" stroke="#3a3a3a" stroke-width="2.0" stroke-linecap="round"/>
<text x="498.4" y="157.1" class="lg2">TS+SCS-vdW</text>
<path d="M473.4 163.4L483.8 163.4L478.6 171.2Z" fill="#3cbcc0"/>
<text x="498.4" y="170.0" class="lg2">TS-HI-vdW</text>
<path d="M480.6 180.4L482.5 181.1M479.4 181.4L480.2 183.2M477.8 181.4L477.0 183.2M476.6 180.4L474.7 181.1M476.6 178.8L474.7 178.1M477.8 177.8L477.0 176.0M479.4 177.8L480.2 176.0M480.6 178.8L482.5 178.1" stroke="#f5a02a" stroke-width="2.1" stroke-linecap="round"/>
<text x="498.4" y="183.2" class="lg2">MBD-vdW</text>
<path d="M476.1 191.6A2.7 2.7 0 1 1 476.5 194.2" fill="none" stroke="#2c4cb4" stroke-width="1.8"/><circle cx="478.6" cy="192.5" r="0.9" fill="#2c4cb4"/>
<text x="498.4" y="196.1" class="lg2">dDSc-vdW</text>
<text x="92.5" y="42.3" class="ti">(BH<tspan dy="4" class="sb">2</tspan><tspan dy="-4">NH</tspan><tspan dy="4" class="sb">2</tspan><tspan dy="-4">)</tspan><tspan dy="4" class="sb">3</tspan></text>
<text x="383" y="43.8" class="ti">(NH<tspan dy="4" class="sb">4</tspan><tspan dy="-4">)</tspan><tspan dy="4" class="sb">2</tspan><tspan dy="-4">(B</tspan><tspan dy="4" class="sb">12</tspan><tspan dy="-4">H</tspan><tspan dy="4" class="sb">12</tspan><tspan dy="-4">)</tspan></text>
<text x="5" y="20.5" class="pl">a)</text>
<text x="306" y="20.5" class="pl">b)</text>
<text transform="translate(10.8 208) rotate(-90)" text-anchor="middle" class="ax">Energy (eV/f.u.)</text>
<text x="154" y="444.5" class="ax">V/V<tspan dy="5" class="sb2">0</tspan></text>
<text x="454" y="444.5" class="ax">V/V<tspan dy="5" class="sb2">0</tspan></text>
</svg></body></html>
